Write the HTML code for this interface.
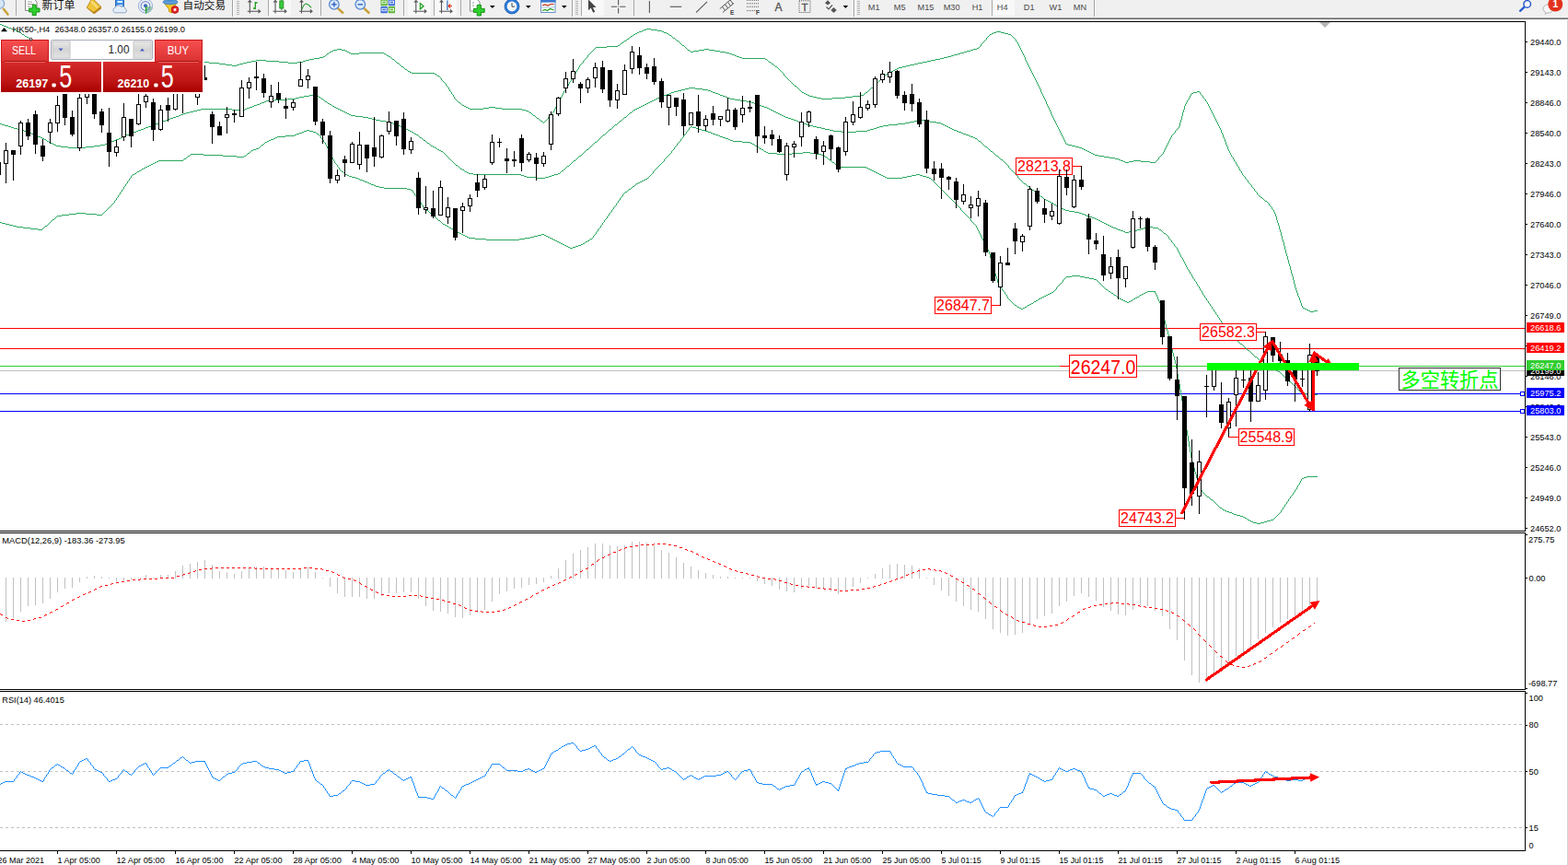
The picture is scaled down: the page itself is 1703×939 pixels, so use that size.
<!DOCTYPE html>
<html><head><meta charset="utf-8"><title>HK50 H4</title>
<style>
html,body{margin:0;padding:0;background:#fff}
body{width:1703px;height:939px;overflow:hidden;position:relative;font-family:"Liberation Sans","Noto Sans CJK SC",sans-serif}
svg{position:absolute;left:0;top:0;display:block}
text{font-family:"Liberation Sans","Noto Sans CJK SC",sans-serif}
</style></head><body>
<svg width="1703" height="939" viewBox="0 0 1703 939">
<defs><clipPath id="cm"><rect x="0" y="24" width="1656" height="552"/></clipPath><clipPath id="c2"><rect x="0" y="579" width="1656" height="169"/></clipPath><clipPath id="c3"><rect x="0" y="751" width="1656" height="172"/></clipPath><linearGradient id="gr1" x1="0" y1="0" x2="0" y2="1"><stop offset="0" stop-color="#f85050"/><stop offset="1" stop-color="#d83030"/></linearGradient><linearGradient id="gr2" x1="0" y1="0" x2="0" y2="1"><stop offset="0" stop-color="#d62a2a"/><stop offset="0.6" stop-color="#c01616"/><stop offset="1" stop-color="#a80000"/></linearGradient><linearGradient id="gb" x1="0" y1="0" x2="0" y2="1"><stop offset="0" stop-color="#e8e8e8"/><stop offset="0.5" stop-color="#d4d4d4"/><stop offset="1" stop-color="#e4e4e4"/></linearGradient></defs>
<rect x="0" y="0" width="1703" height="939" fill="#fff" />
<g shape-rendering="crispEdges">
<g clip-path="url(#cm)">
<rect x="0" y="356" width="1656" height="1" fill="#ff0000" />
<rect x="0" y="378" width="1656" height="1" fill="#ff0000" />
<rect x="0" y="397" width="1656" height="1" fill="#32cd32" />
<rect x="0" y="402" width="1656" height="1" fill="#c0c0c0" />
<rect x="0" y="427" width="1656" height="1" fill="#0000ff" />
<rect x="0" y="446" width="1656" height="1" fill="#0000ff" />
<path d="M0 26.5h2M2 27.5h2M4 28.5h3M7 29.5h2M9 30.5h3M12 31.5h2M14 32.5h3M17 33.5h2M19 34.5h2M21 35.5h2M23 36.5h1M24 37.5h2M26 38.5h1M27 39.5h2M29 40.5h2M31 41.5h1M32 42.5h2M34 43.5h1" stroke="#2aa85f" stroke-width="1" fill="none"/>
<path d="M479.5 85v2M484.5 91v2M487.5 95v2M488.5 97v2M490.5 100v2M492.5 103v2M493.5 105v2M595.5 127v2M601.5 120v2M602.5 118v2M603.5 116v2M604.5 114v2M605.5 112v2M607.5 109v2M608.5 107v2M609.5 105v2M610.5 103v2M611.5 101v2M612.5 99v2M614.5 96v2M615.5 94v2M617.5 91v2M618.5 89v2M620.5 86v2M622.5 83v2M623.5 81v2M625.5 78v2M626.5 76v2M628.5 73v2M629.5 71v2M633.5 66v2M638.5 60v2M851.5 80v2M1065.5 48v2M1071.5 41v2M1103.5 43v2M1105.5 46v2M1106.5 48v2M1107.5 50v2M1108.5 52v2M1109.5 54v2M1110.5 56v2M1111.5 58v2M1112.5 60v2M1113.5 62v3M1114.5 65v2M1115.5 67v2M1116.5 69v2M1117.5 71v2M1118.5 73v2M1119.5 75v2M1120.5 77v2M1121.5 79v2M1122.5 81v2M1123.5 83v2M1124.5 85v2M1125.5 87v2M1126.5 89v2M1127.5 91v2M1128.5 93v2M1129.5 95v2M1130.5 97v3M1131.5 100v2M1132.5 102v2M1133.5 104v2M1134.5 106v2M1135.5 108v2M1136.5 110v3M1137.5 113v2M1138.5 115v2M1139.5 117v2M1140.5 119v2M1141.5 121v3M1142.5 124v2M1143.5 126v2M1144.5 128v2M1145.5 130v2M1146.5 132v2M1147.5 134v2M1148.5 136v2M1149.5 138v2M1150.5 140v2M1151.5 142v2M1152.5 144v2M1153.5 146v2M1154.5 148v2M1155.5 150v2M1156.5 152v2M1157.5 154v2M1258.5 171v2M1263.5 165v2M1264.5 163v2M1265.5 161v2M1266.5 159v2M1267.5 157v2M1268.5 155v2M1269.5 153v2M1270.5 151v2M1271.5 149v2M1272.5 147v2M1276.5 142v2M1280.5 137v2M1281.5 133v4M1282.5 130v3M1283.5 126v4M1284.5 122v4M1285.5 119v3M1286.5 115v4M1287.5 113v2M1288.5 111v2M1289.5 109v2M1291.5 106v2M1292.5 104v2M1293.5 102v2M1303.5 100v2M1306.5 104v2M1309.5 108v2M1311.5 111v2M1312.5 113v2M1313.5 115v2M1314.5 117v2M1315.5 119v2M1316.5 121v2M1317.5 123v2M1318.5 125v2M1319.5 127v2M1320.5 129v2M1321.5 131v2M1322.5 133v2M1323.5 135v2M1324.5 137v2M1325.5 139v2M1326.5 141v3M1327.5 144v2M1328.5 146v3M1329.5 149v2M1330.5 151v3M1331.5 154v3M1332.5 157v2M1333.5 159v3M1334.5 162v2M1335.5 164v2M1336.5 166v2M1337.5 168v2M1339.5 171v2M1340.5 173v2M1342.5 176v2M1343.5 178v2M1345.5 181v2M1346.5 183v2M1348.5 186v2M1349.5 188v2M1352.5 192v2M1355.5 196v2M1359.5 201v2M1362.5 205v2M1365.5 209v2M1378.5 221v2M1381.5 225v2M1383.5 228v2M1384.5 230v2M1385.5 232v3M1386.5 235v4M1387.5 239v3M1388.5 242v3M1389.5 245v4M1390.5 249v3M1391.5 252v4M1392.5 256v4M1393.5 260v3M1394.5 263v4M1395.5 267v4M1396.5 271v4M1397.5 275v3M1398.5 278v4M1399.5 282v4M1400.5 286v3M1401.5 289v4M1402.5 293v4M1403.5 297v3M1404.5 300v4M1405.5 304v4M1406.5 308v4M1407.5 312v3M1408.5 315v3M1409.5 318v3M1410.5 321v2M1411.5 323v3M1412.5 326v3M1413.5 329v3M1414.5 332v2M702 31.5h5M699 32.5h3M707 32.5h7M697 33.5h2M714 33.5h5M694 34.5h3M719 34.5h2M1082 34.5h5M692 35.5h2M721 35.5h3M1079 35.5h3M1087 35.5h4M690 36.5h2M724 36.5h2M1077 36.5h2M1091 36.5h4M688 37.5h2M726 37.5h1M1075 37.5h2M1095 37.5h3M687 38.5h1M727 38.5h2M1074 38.5h1M1098 38.5h1M685 39.5h2M729 39.5h1M1073 39.5h1M1099 39.5h1M684 40.5h1M730 40.5h1M1072 40.5h1M1100 40.5h1M683 41.5h1M731 41.5h2M1101 41.5h1M681 42.5h2M733 42.5h1M1102 42.5h1M680 43.5h1M734 43.5h1M1070 43.5h1M678 44.5h2M735 44.5h2M1069 44.5h1M677 45.5h1M737 45.5h1M1068 45.5h1M1104 45.5h1M675 46.5h2M738 46.5h1M1067 46.5h1M674 47.5h1M739 47.5h1M1066 47.5h1M673 48.5h1M740 48.5h1M671 49.5h2M741 49.5h2M659 50.5h12M743 50.5h1M1064 50.5h1M647 51.5h12M744 51.5h1M1063 51.5h1M646 52.5h1M745 52.5h1M1061 52.5h2M366 53.5h5M645 53.5h1M746 53.5h1M765 53.5h5M1057 53.5h4M362 54.5h4M371 54.5h4M644 54.5h1M747 54.5h2M759 54.5h6M770 54.5h6M1054 54.5h3M360 55.5h2M375 55.5h2M643 55.5h1M749 55.5h1M753 55.5h6M776 55.5h6M1050 55.5h4M358 56.5h2M377 56.5h2M642 56.5h1M750 56.5h3M782 56.5h6M1047 56.5h3M357 57.5h1M379 57.5h2M390 57.5h27M641 57.5h1M788 57.5h4M1043 57.5h4M355 58.5h2M381 58.5h9M417 58.5h2M640 58.5h1M792 58.5h3M1040 58.5h3M354 59.5h1M419 59.5h1M639 59.5h1M795 59.5h3M1036 59.5h4M353 60.5h1M420 60.5h2M798 60.5h2M1033 60.5h3M351 61.5h2M422 61.5h2M800 61.5h3M1029 61.5h4M347 62.5h4M424 62.5h1M637 62.5h1M803 62.5h3M1025 62.5h4M341 63.5h6M425 63.5h1M636 63.5h1M806 63.5h25M1021 63.5h4M336 64.5h5M426 64.5h2M635 64.5h1M831 64.5h2M1016 64.5h5M278 65.5h11M332 65.5h4M428 65.5h1M634 65.5h1M833 65.5h1M1011 65.5h5M273 66.5h5M289 66.5h14M329 66.5h3M429 66.5h1M834 66.5h1M1007 66.5h4M220 67.5h7M268 67.5h5M303 67.5h10M323 67.5h6M430 67.5h1M835 67.5h2M1002 67.5h5M227 68.5h11M264 68.5h4M313 68.5h10M431 68.5h2M632 68.5h1M837 68.5h1M997 68.5h5M238 69.5h7M260 69.5h4M433 69.5h1M631 69.5h1M838 69.5h2M993 69.5h4M245 70.5h7M257 70.5h3M434 70.5h1M630 70.5h1M840 70.5h1M988 70.5h5M252 71.5h5M435 71.5h1M841 71.5h1M984 71.5h4M436 72.5h2M842 72.5h2M980 72.5h4M438 73.5h1M844 73.5h1M976 73.5h4M439 74.5h1M845 74.5h1M974 74.5h2M440 75.5h2M627 75.5h1M846 75.5h1M972 75.5h2M442 76.5h1M847 76.5h1M970 76.5h2M443 77.5h2M848 77.5h1M968 77.5h2M445 78.5h2M849 78.5h1M967 78.5h1M447 79.5h25M850 79.5h1M965 79.5h2M472 80.5h2M624 80.5h1M963 80.5h2M474 81.5h1M961 81.5h2M475 82.5h2M852 82.5h1M960 82.5h1M477 83.5h1M853 83.5h1M959 83.5h1M478 84.5h1M854 84.5h1M958 84.5h1M621 85.5h1M855 85.5h1M957 85.5h1M856 86.5h1M956 86.5h1M480 87.5h1M857 87.5h1M955 87.5h1M481 88.5h1M619 88.5h1M858 88.5h1M954 88.5h1M482 89.5h1M859 89.5h1M953 89.5h1M483 90.5h1M860 90.5h1M952 90.5h1M861 91.5h1M951 91.5h1M862 92.5h1M950 92.5h1M485 93.5h1M616 93.5h1M863 93.5h2M949 93.5h1M486 94.5h1M865 94.5h1M948 94.5h1M866 95.5h1M946 95.5h2M867 96.5h1M945 96.5h1M868 97.5h1M944 97.5h1M613 98.5h1M869 98.5h1M943 98.5h1M489 99.5h1M870 99.5h1M942 99.5h1M1300 99.5h3M871 100.5h2M940 100.5h2M1296 100.5h4M873 101.5h2M939 101.5h1M1294 101.5h2M491 102.5h1M875 102.5h2M938 102.5h1M1304 102.5h1M877 103.5h2M934 103.5h4M1305 103.5h1M879 104.5h4M926 104.5h8M883 105.5h4M918 105.5h8M887 106.5h5M904 106.5h14M1307 106.5h1M494 107.5h1M892 107.5h12M1308 107.5h1M495 108.5h1M1290 108.5h1M496 109.5h1M497 110.5h1M1310 110.5h1M498 111.5h2M606 111.5h1M500 112.5h1M501 113.5h1M502 114.5h2M504 115.5h2M506 116.5h2M531 116.5h7M508 117.5h2M525 117.5h6M538 117.5h7M510 118.5h15M545 118.5h22M567 119.5h4M571 120.5h3M574 121.5h1M575 122.5h2M600 122.5h1M577 123.5h1M599 123.5h1M578 124.5h1M598 124.5h1M579 125.5h2M597 125.5h1M581 126.5h1M596 126.5h1M582 127.5h1M583 128.5h2M585 129.5h1M594 129.5h1M586 130.5h1M593 130.5h1M587 131.5h2M592 131.5h1M589 132.5h1M591 132.5h1M590 133.5h1M1279 139.5h1M1278 140.5h1M1277 141.5h1M1275 144.5h1M1274 145.5h1M1273 146.5h1M1158 156.5h2M1160 157.5h4M1164 158.5h4M1168 159.5h4M1172 160.5h3M1175 161.5h2M1177 162.5h2M1179 163.5h2M1181 164.5h2M1183 165.5h2M1185 166.5h2M1187 167.5h2M1262 167.5h1M1189 168.5h4M1261 168.5h1M1193 169.5h6M1260 169.5h1M1199 170.5h6M1259 170.5h1M1338 170.5h1M1205 171.5h6M1211 172.5h4M1215 173.5h2M1257 173.5h1M1217 174.5h3M1231 174.5h8M1256 174.5h1M1220 175.5h2M1226 175.5h5M1239 175.5h10M1255 175.5h1M1341 175.5h1M1222 176.5h4M1249 176.5h6M1344 180.5h1M1347 185.5h1M1350 190.5h1M1351 191.5h1M1353 194.5h1M1354 195.5h1M1356 198.5h1M1357 199.5h1M1358 200.5h1M1360 203.5h1M1361 204.5h1M1363 207.5h1M1364 208.5h1M1366 211.5h1M1367 212.5h1M1368 213.5h1M1369 214.5h2M1371 215.5h1M1372 216.5h1M1373 217.5h1M1374 218.5h2M1376 219.5h1M1377 220.5h1M1379 223.5h1M1380 224.5h1M1382 227.5h1M1415 334.5h2M1417 335.5h2M1419 336.5h2M1421 337.5h2M1427 337.5h4M1423 338.5h4" stroke="#2aa85f" stroke-width="1" fill="none"/>
<path d="M1095.5 180v2M1105.5 191v2M1269.5 257v2M1272.5 261v2M1275.5 265v2M1278.5 269v2M1279.5 271v2M1280.5 273v2M1281.5 275v2M1282.5 277v2M1284.5 280v2M1285.5 282v2M1286.5 284v2M1287.5 286v2M1288.5 288v2M1289.5 290v2M1291.5 293v2M1292.5 295v2M1294.5 298v2M1295.5 300v2M1297.5 303v2M1299.5 306v2M1300.5 308v2M1302.5 311v2M1303.5 313v2M1305.5 316v2M1306.5 318v2M1308.5 321v2M1310.5 324v2M1312.5 327v2M1314.5 330v2M1316.5 333v2M1318.5 336v2M1320.5 339v2M1322.5 342v2M1324.5 345v2M1326.5 348v2M1330.5 353v2M1336.5 360v2M1341.5 366v2M748 95.5h7M744 96.5h4M755 96.5h8M740 97.5h4M763 97.5h6M736 98.5h4M769 98.5h3M732 99.5h4M772 99.5h2M729 100.5h3M774 100.5h3M727 101.5h2M777 101.5h3M724 102.5h3M780 102.5h2M336 103.5h6M721 103.5h3M782 103.5h3M330 104.5h6M342 104.5h4M719 104.5h2M785 104.5h3M325 105.5h5M346 105.5h2M716 105.5h3M788 105.5h2M321 106.5h4M348 106.5h1M714 106.5h2M790 106.5h3M312 107.5h9M349 107.5h2M712 107.5h2M793 107.5h5M298 108.5h14M351 108.5h1M710 108.5h2M798 108.5h6M289 109.5h9M352 109.5h1M708 109.5h2M804 109.5h7M287 110.5h2M353 110.5h2M706 110.5h2M811 110.5h5M284 111.5h3M355 111.5h1M704 111.5h2M816 111.5h3M282 112.5h2M356 112.5h2M702 112.5h2M819 112.5h3M279 113.5h3M358 113.5h2M700 113.5h2M822 113.5h2M276 114.5h3M360 114.5h1M698 114.5h2M824 114.5h3M274 115.5h2M361 115.5h2M696 115.5h2M827 115.5h3M271 116.5h3M363 116.5h2M694 116.5h2M830 116.5h3M268 117.5h3M365 117.5h2M692 117.5h2M833 117.5h2M218 118.5h34M266 118.5h2M367 118.5h2M690 118.5h2M835 118.5h2M214 119.5h4M252 119.5h14M369 119.5h2M688 119.5h2M837 119.5h2M210 120.5h4M371 120.5h2M687 120.5h1M839 120.5h2M206 121.5h4M373 121.5h2M686 121.5h1M841 121.5h2M202 122.5h4M375 122.5h2M684 122.5h2M843 122.5h2M199 123.5h3M377 123.5h2M683 123.5h1M845 123.5h2M196 124.5h3M379 124.5h2M682 124.5h1M847 124.5h2M194 125.5h2M381 125.5h5M681 125.5h1M849 125.5h2M191 126.5h3M386 126.5h8M680 126.5h1M851 126.5h2M188 127.5h3M394 127.5h6M678 127.5h2M853 127.5h3M185 128.5h3M400 128.5h4M677 128.5h1M856 128.5h3M183 129.5h2M404 129.5h4M676 129.5h1M859 129.5h3M180 130.5h3M408 130.5h5M675 130.5h1M862 130.5h3M998 130.5h6M177 131.5h3M413 131.5h6M673 131.5h2M865 131.5h2M993 131.5h5M1004 131.5h6M174 132.5h3M419 132.5h5M672 132.5h1M867 132.5h3M988 132.5h5M1010 132.5h7M172 133.5h2M424 133.5h3M671 133.5h1M870 133.5h3M983 133.5h5M1017 133.5h5M0 134.5h2M169 134.5h3M427 134.5h3M670 134.5h1M873 134.5h3M975 134.5h8M1022 134.5h2M2 135.5h3M166 135.5h3M430 135.5h3M668 135.5h2M876 135.5h3M965 135.5h10M1024 135.5h2M5 136.5h4M164 136.5h2M433 136.5h2M667 136.5h1M879 136.5h4M959 136.5h6M1026 136.5h2M9 137.5h3M161 137.5h3M435 137.5h2M666 137.5h1M883 137.5h4M955 137.5h4M1028 137.5h2M12 138.5h3M158 138.5h3M437 138.5h2M665 138.5h1M887 138.5h5M952 138.5h3M1030 138.5h2M15 139.5h4M156 139.5h2M439 139.5h2M664 139.5h1M892 139.5h4M949 139.5h3M1032 139.5h2M19 140.5h3M153 140.5h3M441 140.5h2M662 140.5h2M896 140.5h5M945 140.5h4M1034 140.5h2M22 141.5h4M150 141.5h3M443 141.5h2M661 141.5h1M901 141.5h4M942 141.5h3M1036 141.5h3M26 142.5h3M148 142.5h2M445 142.5h2M660 142.5h1M905 142.5h9M930 142.5h12M1039 142.5h2M29 143.5h2M145 143.5h3M447 143.5h2M659 143.5h1M914 143.5h16M1041 143.5h3M31 144.5h3M143 144.5h2M449 144.5h1M658 144.5h1M1044 144.5h2M34 145.5h3M140 145.5h3M450 145.5h2M657 145.5h1M1046 145.5h3M37 146.5h2M137 146.5h3M452 146.5h2M655 146.5h2M1049 146.5h3M39 147.5h2M135 147.5h2M454 147.5h1M654 147.5h1M1052 147.5h2M41 148.5h3M133 148.5h2M455 148.5h1M653 148.5h1M1054 148.5h3M44 149.5h2M131 149.5h2M456 149.5h2M652 149.5h1M1057 149.5h2M46 150.5h2M129 150.5h2M458 150.5h1M651 150.5h1M1059 150.5h2M48 151.5h2M126 151.5h3M459 151.5h1M650 151.5h1M1061 151.5h1M50 152.5h1M124 152.5h2M460 152.5h2M649 152.5h1M1062 152.5h1M51 153.5h2M121 153.5h3M462 153.5h1M648 153.5h1M1063 153.5h2M53 154.5h2M119 154.5h2M463 154.5h1M646 154.5h2M1065 154.5h1M55 155.5h2M117 155.5h2M464 155.5h2M645 155.5h1M1066 155.5h1M57 156.5h2M114 156.5h3M466 156.5h1M644 156.5h1M1067 156.5h1M59 157.5h2M109 157.5h5M467 157.5h1M643 157.5h1M1068 157.5h1M61 158.5h5M102 158.5h7M468 158.5h2M642 158.5h1M1069 158.5h1M66 159.5h8M93 159.5h9M470 159.5h2M641 159.5h1M1070 159.5h2M74 160.5h19M472 160.5h2M640 160.5h1M1072 160.5h1M474 161.5h1M639 161.5h1M1073 161.5h1M475 162.5h2M637 162.5h2M1074 162.5h1M477 163.5h2M636 163.5h1M1075 163.5h1M479 164.5h2M635 164.5h1M1076 164.5h2M481 165.5h1M634 165.5h1M1078 165.5h1M482 166.5h1M633 166.5h1M1079 166.5h1M483 167.5h1M632 167.5h1M1080 167.5h1M484 168.5h1M631 168.5h1M1081 168.5h1M485 169.5h1M629 169.5h2M1082 169.5h2M486 170.5h1M628 170.5h1M1084 170.5h1M487 171.5h1M627 171.5h1M1085 171.5h1M488 172.5h1M626 172.5h1M1086 172.5h1M489 173.5h1M625 173.5h1M1087 173.5h2M490 174.5h1M623 174.5h2M1089 174.5h1M491 175.5h1M622 175.5h1M1090 175.5h1M492 176.5h1M621 176.5h1M1091 176.5h1M493 177.5h1M620 177.5h1M1092 177.5h1M494 178.5h1M619 178.5h1M1093 178.5h1M495 179.5h2M618 179.5h1M1094 179.5h1M497 180.5h1M616 180.5h2M498 181.5h1M615 181.5h1M499 182.5h1M614 182.5h1M1096 182.5h1M500 183.5h2M613 183.5h1M1097 183.5h1M502 184.5h2M612 184.5h1M1098 184.5h1M504 185.5h1M610 185.5h2M1099 185.5h1M505 186.5h2M609 186.5h1M1100 186.5h1M507 187.5h2M608 187.5h1M1101 187.5h1M509 188.5h5M606 188.5h2M1102 188.5h1M514 189.5h52M602 189.5h4M1103 189.5h1M566 190.5h3M599 190.5h3M1104 190.5h1M569 191.5h3M596 191.5h3M572 192.5h10M592 192.5h4M582 193.5h10M1106 193.5h1M1107 194.5h1M1108 195.5h1M1109 196.5h1M1110 197.5h1M1111 198.5h1M1112 199.5h2M1114 200.5h1M1115 201.5h1M1116 202.5h2M1118 203.5h1M1119 204.5h1M1120 205.5h1M1121 206.5h2M1123 207.5h1M1124 208.5h1M1125 209.5h1M1126 210.5h2M1128 211.5h1M1129 212.5h1M1130 213.5h2M1132 214.5h1M1133 215.5h1M1134 216.5h2M1136 217.5h2M1138 218.5h2M1140 219.5h2M1142 220.5h2M1144 221.5h1M1145 222.5h2M1147 223.5h2M1149 224.5h2M1151 225.5h2M1153 226.5h2M1155 227.5h2M1157 228.5h4M1161 229.5h6M1167 230.5h5M1172 231.5h3M1175 232.5h3M1178 233.5h2M1180 234.5h3M1183 235.5h3M1186 236.5h3M1189 237.5h2M1191 238.5h2M1193 239.5h2M1195 240.5h2M1197 241.5h2M1199 242.5h2M1201 243.5h2M1203 244.5h2M1205 245.5h2M1207 246.5h2M1246 246.5h6M1209 247.5h3M1242 247.5h4M1252 247.5h6M1212 248.5h2M1239 248.5h3M1258 248.5h1M1214 249.5h3M1235 249.5h4M1259 249.5h2M1217 250.5h3M1231 250.5h4M1261 250.5h1M1220 251.5h2M1226 251.5h5M1262 251.5h1M1222 252.5h4M1263 252.5h1M1264 253.5h2M1266 254.5h1M1267 255.5h1M1268 256.5h1M1270 259.5h1M1271 260.5h1M1273 263.5h1M1274 264.5h1M1276 267.5h1M1277 268.5h1M1283 279.5h1M1290 292.5h1M1293 297.5h1M1296 302.5h1M1298 305.5h1M1301 310.5h1M1304 315.5h1M1307 320.5h1M1309 323.5h1M1311 326.5h1M1313 329.5h1M1315 332.5h1M1317 335.5h1M1319 338.5h1M1321 341.5h1M1323 344.5h1M1325 347.5h1M1327 350.5h1M1328 351.5h1M1329 352.5h1M1331 355.5h1M1332 356.5h1M1333 357.5h1M1334 358.5h1M1335 359.5h1M1337 362.5h1M1338 363.5h1M1339 364.5h1M1340 365.5h1M1342 368.5h1M1343 369.5h1M1344 370.5h1M1345 371.5h1M1346 372.5h1M1347 373.5h2M1349 374.5h1M1350 375.5h1M1351 376.5h1M1352 377.5h1M1353 378.5h1M1354 379.5h1M1355 380.5h2M1357 381.5h1M1358 382.5h1M1359 383.5h1M1360 384.5h1M1361 385.5h1M1362 386.5h1M1363 387.5h2M1365 388.5h1M1366 389.5h1M1367 390.5h1M1368 391.5h2M1370 392.5h2M1372 393.5h1M1373 394.5h2M1375 395.5h2M1377 396.5h1M1378 397.5h2M1380 398.5h1M1381 399.5h2M1383 400.5h2M1385 401.5h1M1386 402.5h2M1388 403.5h2M1390 404.5h1M1391 405.5h1M1392 406.5h1M1393 407.5h1M1394 408.5h1M1395 409.5h1M1396 410.5h1M1397 411.5h1M1398 412.5h1M1399 413.5h1M1400 414.5h2M1402 415.5h1M1403 416.5h1M1404 417.5h1M1405 418.5h1M1406 419.5h1M1407 420.5h1M1408 421.5h1M1409 422.5h1M1410 423.5h1M1411 424.5h2M1413 425.5h2M1415 426.5h2M1417 427.5h2M1419 428.5h12" stroke="#2aa85f" stroke-width="1" fill="none"/>
<path d="M124.5 218v2M126.5 215v2M128.5 212v2M130.5 209v2M132.5 206v2M134.5 203v2M136.5 200v2M138.5 197v2M140.5 194v2M142.5 191v2M348.5 148v2M351.5 152v2M353.5 155v2M354.5 157v2M355.5 159v2M356.5 161v2M357.5 163v2M358.5 165v2M359.5 167v2M360.5 169v2M361.5 171v2M362.5 173v2M363.5 175v2M366.5 179v2M368.5 182v2M448.5 207v2M450.5 210v2M452.5 213v2M455.5 217v2M457.5 220v2M459.5 223v2M644.5 256v2M647.5 252v2M649.5 249v2M652.5 245v2M654.5 242v2M656.5 239v2M659.5 235v2M661.5 232v2M664.5 228v2M666.5 225v2M669.5 221v2M671.5 218v2M673.5 215v2M676.5 211v2M709.5 186v2M721.5 173v2M729.5 164v2M732.5 160v2M735.5 156v2M739.5 151v2M742.5 147v2M745.5 143v2M748.5 139v2M1043.5 226v2M1054.5 238v2M1060.5 245v2M1061.5 247v2M1062.5 249v2M1063.5 251v2M1064.5 253v2M1065.5 255v2M1066.5 257v2M1067.5 259v2M1068.5 261v2M1069.5 263v2M1070.5 265v2M1071.5 267v2M1072.5 269v2M1073.5 271v2M1074.5 273v3M1075.5 276v4M1076.5 280v3M1077.5 283v3M1078.5 286v4M1079.5 290v3M1080.5 293v4M1081.5 297v3M1082.5 300v3M1083.5 303v4M1084.5 307v2M1086.5 310v2M1088.5 313v2M1091.5 317v2M1093.5 320v2M1094.5 322v2M1147.5 312v2M1154.5 304v2M1254.5 316v2M1255.5 318v2M1256.5 320v2M1257.5 322v3M1258.5 325v2M1259.5 327v2M1260.5 329v3M1261.5 332v4M1262.5 336v4M1263.5 340v4M1264.5 344v4M1265.5 348v4M1266.5 352v4M1267.5 356v3M1268.5 359v4M1269.5 363v4M1270.5 367v4M1271.5 371v4M1272.5 375v4M1273.5 379v4M1274.5 383v4M1275.5 387v4M1276.5 391v4M1277.5 395v5M1278.5 400v6M1279.5 406v6M1280.5 412v5M1281.5 417v6M1282.5 423v6M1283.5 429v6M1284.5 435v6M1285.5 441v6M1286.5 447v7M1287.5 454v7M1288.5 461v6M1289.5 467v6M1290.5 473v6M1291.5 479v6M1292.5 485v6M1293.5 491v6M1294.5 497v4M1295.5 501v4M1296.5 505v3M1297.5 508v4M1298.5 512v3M1299.5 515v4M1300.5 519v3M1301.5 522v2M1302.5 524v3M1303.5 527v3M1304.5 530v2M1305.5 532v2M1391.5 554v2M1393.5 551v2M1395.5 548v2M1397.5 545v2M1399.5 542v2M1401.5 539v2M1404.5 535v2M1406.5 532v2M1408.5 529v2M1409.5 527v2M1411.5 524v2M1412.5 522v2M1413.5 520v2M750 137.5h2M749 138.5h1M752 138.5h4M756 139.5h3M759 140.5h3M333 141.5h3M747 141.5h1M762 141.5h4M330 142.5h3M336 142.5h4M746 142.5h1M766 142.5h3M328 143.5h2M340 143.5h3M769 143.5h3M325 144.5h3M343 144.5h1M772 144.5h2M322 145.5h3M344 145.5h2M744 145.5h1M774 145.5h3M320 146.5h2M346 146.5h1M743 146.5h1M777 146.5h3M310 147.5h10M347 147.5h1M780 147.5h2M301 148.5h9M782 148.5h3M299 149.5h2M741 149.5h1M785 149.5h3M297 150.5h2M349 150.5h1M740 150.5h1M788 150.5h3M294 151.5h3M350 151.5h1M791 151.5h2M292 152.5h2M793 152.5h3M290 153.5h2M738 153.5h1M796 153.5h10M288 154.5h2M352 154.5h1M737 154.5h1M806 154.5h9M287 155.5h1M736 155.5h1M815 155.5h2M286 156.5h1M817 156.5h2M284 157.5h2M819 157.5h1M283 158.5h1M734 158.5h1M820 158.5h2M282 159.5h1M733 159.5h1M822 159.5h2M281 160.5h1M824 160.5h1M278 161.5h3M825 161.5h2M275 162.5h3M731 162.5h1M827 162.5h2M273 163.5h2M730 163.5h1M829 163.5h1M272 164.5h1M830 164.5h2M271 165.5h1M832 165.5h2M872 165.5h8M269 166.5h2M728 166.5h1M834 166.5h10M860 166.5h12M880 166.5h6M207 167.5h14M268 167.5h1M727 167.5h1M844 167.5h16M886 167.5h6M206 168.5h1M221 168.5h21M267 168.5h1M726 168.5h1M892 168.5h3M204 169.5h2M242 169.5h15M265 169.5h2M725 169.5h1M895 169.5h1M203 170.5h1M257 170.5h8M724 170.5h1M896 170.5h2M202 171.5h1M723 171.5h1M898 171.5h1M200 172.5h2M722 172.5h1M899 172.5h1M199 173.5h1M900 173.5h2M172 174.5h27M902 174.5h1M170 175.5h2M720 175.5h1M903 175.5h1M168 176.5h2M719 176.5h1M904 176.5h2M166 177.5h2M364 177.5h1M718 177.5h1M906 177.5h1M164 178.5h2M365 178.5h1M717 178.5h1M907 178.5h2M162 179.5h2M716 179.5h1M909 179.5h2M160 180.5h2M715 180.5h1M911 180.5h2M158 181.5h2M367 181.5h1M714 181.5h1M913 181.5h28M156 182.5h2M713 182.5h1M941 182.5h2M154 183.5h2M712 183.5h1M943 183.5h2M153 184.5h1M369 184.5h1M711 184.5h1M945 184.5h2M151 185.5h2M370 185.5h1M710 185.5h1M947 185.5h2M149 186.5h2M371 186.5h2M949 186.5h2M148 187.5h1M373 187.5h1M951 187.5h2M146 188.5h2M374 188.5h1M708 188.5h1M953 188.5h2M144 189.5h2M375 189.5h2M707 189.5h1M955 189.5h2M995 189.5h4M143 190.5h1M377 190.5h2M706 190.5h1M957 190.5h2M990 190.5h5M999 190.5h3M379 191.5h3M705 191.5h1M959 191.5h2M985 191.5h5M1002 191.5h4M382 192.5h4M704 192.5h1M961 192.5h2M980 192.5h5M1006 192.5h3M141 193.5h1M386 193.5h3M703 193.5h1M963 193.5h17M1009 193.5h2M389 194.5h2M701 194.5h2M1011 194.5h1M391 195.5h3M699 195.5h2M1012 195.5h1M139 196.5h1M394 196.5h2M697 196.5h2M1013 196.5h1M396 197.5h3M695 197.5h2M1014 197.5h1M399 198.5h2M693 198.5h2M1015 198.5h1M137 199.5h1M401 199.5h2M691 199.5h2M1016 199.5h1M403 200.5h3M690 200.5h1M1017 200.5h1M406 201.5h2M689 201.5h1M1018 201.5h1M135 202.5h1M408 202.5h4M687 202.5h2M1019 202.5h1M412 203.5h5M686 203.5h1M1020 203.5h1M417 204.5h25M685 204.5h1M1021 204.5h1M133 205.5h1M442 205.5h4M683 205.5h2M1022 205.5h1M446 206.5h2M682 206.5h1M1023 206.5h1M681 207.5h1M1024 207.5h1M131 208.5h1M679 208.5h2M1025 208.5h1M449 209.5h1M678 209.5h1M1026 209.5h1M677 210.5h1M1027 210.5h1M129 211.5h1M1028 211.5h1M451 212.5h1M1029 212.5h1M675 213.5h1M1030 213.5h1M127 214.5h1M674 214.5h1M1031 214.5h1M453 215.5h1M1032 215.5h1M454 216.5h1M1033 216.5h1M125 217.5h1M672 217.5h1M1034 217.5h1M1035 218.5h1M456 219.5h1M1036 219.5h1M123 220.5h1M670 220.5h1M1037 220.5h1M122 221.5h1M1038 221.5h1M121 222.5h1M458 222.5h1M1039 222.5h1M120 223.5h1M668 223.5h1M1040 223.5h1M119 224.5h1M667 224.5h1M1041 224.5h1M118 225.5h1M460 225.5h1M1042 225.5h1M117 226.5h1M461 226.5h1M116 227.5h1M462 227.5h1M665 227.5h1M115 228.5h1M463 228.5h2M1044 228.5h1M114 229.5h1M465 229.5h1M1045 229.5h1M113 230.5h1M466 230.5h1M663 230.5h1M1046 230.5h1M83 231.5h10M112 231.5h1M467 231.5h1M662 231.5h1M1047 231.5h1M75 232.5h8M93 232.5h12M111 232.5h1M468 232.5h1M1048 232.5h1M67 233.5h8M105 233.5h6M469 233.5h1M1049 233.5h1M62 234.5h5M470 234.5h2M660 234.5h1M1050 234.5h1M61 235.5h1M472 235.5h1M1051 235.5h1M60 236.5h1M473 236.5h1M1052 236.5h1M59 237.5h1M474 237.5h1M658 237.5h1M1053 237.5h1M57 238.5h2M475 238.5h1M657 238.5h1M56 239.5h1M476 239.5h2M55 240.5h1M478 240.5h1M1055 240.5h1M0 241.5h2M54 241.5h1M479 241.5h1M655 241.5h1M1056 241.5h1M2 242.5h4M53 242.5h1M480 242.5h1M1057 242.5h1M6 243.5h4M52 243.5h1M481 243.5h2M1058 243.5h1M10 244.5h4M51 244.5h1M483 244.5h2M653 244.5h1M1059 244.5h1M14 245.5h4M49 245.5h2M485 245.5h2M18 246.5h7M48 246.5h1M487 246.5h1M25 247.5h8M47 247.5h1M488 247.5h2M651 247.5h1M33 248.5h8M46 248.5h1M490 248.5h2M650 248.5h1M41 249.5h5M492 249.5h2M494 250.5h1M495 251.5h2M648 251.5h1M497 252.5h2M499 253.5h2M501 254.5h2M588 254.5h3M646 254.5h1M503 255.5h2M584 255.5h4M591 255.5h2M645 255.5h1M505 256.5h2M580 256.5h4M593 256.5h2M507 257.5h2M576 257.5h4M595 257.5h2M509 258.5h7M570 258.5h6M597 258.5h2M643 258.5h1M516 259.5h12M564 259.5h6M599 259.5h2M641 259.5h2M528 260.5h36M601 260.5h2M640 260.5h1M603 261.5h2M638 261.5h2M605 262.5h2M636 262.5h2M607 263.5h2M635 263.5h1M609 264.5h2M633 264.5h2M611 265.5h2M631 265.5h2M613 266.5h2M628 266.5h3M615 267.5h2M625 267.5h3M617 268.5h2M622 268.5h3M619 269.5h3M1164 299.5h9M1158 300.5h6M1173 300.5h5M1157 301.5h1M1178 301.5h5M1156 302.5h1M1183 302.5h5M1155 303.5h1M1188 303.5h3M1191 304.5h1M1192 305.5h1M1153 306.5h1M1193 306.5h1M1152 307.5h1M1194 307.5h1M1151 308.5h1M1195 308.5h1M1085 309.5h1M1150 309.5h1M1196 309.5h1M1149 310.5h1M1197 310.5h1M1148 311.5h1M1198 311.5h1M1087 312.5h1M1199 312.5h1M1200 313.5h1M1146 314.5h1M1201 314.5h2M1089 315.5h1M1145 315.5h1M1203 315.5h1M1090 316.5h1M1144 316.5h1M1204 316.5h2M1246 316.5h8M1142 317.5h2M1206 317.5h1M1244 317.5h2M1140 318.5h2M1207 318.5h2M1242 318.5h2M1092 319.5h1M1138 319.5h2M1209 319.5h1M1240 319.5h2M1136 320.5h2M1210 320.5h2M1238 320.5h2M1134 321.5h2M1212 321.5h1M1237 321.5h1M1132 322.5h2M1213 322.5h2M1235 322.5h2M1130 323.5h2M1215 323.5h1M1233 323.5h2M1095 324.5h1M1128 324.5h2M1216 324.5h2M1231 324.5h2M1096 325.5h1M1127 325.5h1M1218 325.5h2M1230 325.5h1M1097 326.5h1M1125 326.5h2M1220 326.5h2M1228 326.5h2M1098 327.5h1M1123 327.5h2M1222 327.5h2M1226 327.5h2M1099 328.5h1M1122 328.5h1M1224 328.5h2M1100 329.5h1M1120 329.5h2M1101 330.5h1M1118 330.5h2M1102 331.5h2M1116 331.5h2M1104 332.5h1M1115 332.5h1M1105 333.5h2M1113 333.5h2M1107 334.5h2M1111 334.5h2M1109 335.5h2M1419 517.5h12M1416 518.5h3M1414 519.5h2M1410 526.5h1M1407 531.5h1M1306 534.5h1M1405 534.5h1M1307 535.5h1M1308 536.5h1M1309 537.5h1M1403 537.5h1M1310 538.5h1M1402 538.5h1M1311 539.5h2M1313 540.5h1M1314 541.5h1M1400 541.5h1M1315 542.5h2M1317 543.5h1M1318 544.5h1M1398 544.5h1M1319 545.5h1M1320 546.5h1M1321 547.5h1M1396 547.5h1M1322 548.5h1M1323 549.5h1M1324 550.5h1M1394 550.5h1M1325 551.5h2M1327 552.5h1M1328 553.5h2M1392 553.5h1M1330 554.5h2M1332 555.5h3M1335 556.5h3M1390 556.5h1M1338 557.5h2M1389 557.5h1M1340 558.5h3M1388 558.5h1M1343 559.5h4M1387 559.5h1M1347 560.5h3M1386 560.5h1M1350 561.5h2M1385 561.5h1M1352 562.5h2M1384 562.5h1M1354 563.5h1M1383 563.5h1M1355 564.5h2M1380 564.5h3M1357 565.5h2M1376 565.5h4M1359 566.5h2M1373 566.5h3M1361 567.5h4M1369 567.5h4M1365 568.5h4" stroke="#2aa85f" stroke-width="1" fill="none"/>
</g>
</g>
<rect x="1103.5" y="171.5" width="61" height="18" fill="#fff" stroke="#ff0000" stroke-width="1" shape-rendering="crispEdges"/>
<text x="1134.0" y="186.26" font-size="16" fill="#ff0000" text-anchor="middle" >28213.8</text>
<rect x="1165" y="180" width="10" height="1" fill="#ff0000" shape-rendering="crispEdges"/>
<rect x="1015.5" y="322.5" width="61" height="18" fill="#fff" stroke="#ff0000" stroke-width="1" shape-rendering="crispEdges"/>
<text x="1046.0" y="337.26" font-size="16" fill="#ff0000" text-anchor="middle" >26847.7</text>
<rect x="1077" y="331" width="10" height="1" fill="#ff0000" shape-rendering="crispEdges"/>
<rect x="1303.5" y="351.5" width="61" height="18" fill="#fff" stroke="#ff0000" stroke-width="1" shape-rendering="crispEdges"/>
<text x="1334.0" y="366.26" font-size="16" fill="#ff0000" text-anchor="middle" >26582.3</text>
<rect x="1365" y="360" width="10" height="1" fill="#ff0000" shape-rendering="crispEdges"/>
<rect x="1345.5" y="465.5" width="60" height="18" fill="#fff" stroke="#ff0000" stroke-width="1" shape-rendering="crispEdges"/>
<text x="1375.5" y="480.26" font-size="16" fill="#ff0000" text-anchor="middle" >25548.9</text>
<rect x="1334" y="474" width="11" height="1" fill="#ff0000" shape-rendering="crispEdges"/>
<rect x="1215.5" y="553.5" width="61" height="18" fill="#fff" stroke="#ff0000" stroke-width="1" shape-rendering="crispEdges"/>
<text x="1246.0" y="568.26" font-size="16" fill="#ff0000" text-anchor="middle" >24743.2</text>
<rect x="1277" y="562" width="10" height="1" fill="#ff0000" shape-rendering="crispEdges"/>
<rect x="1161.5" y="385.5" width="73" height="24" fill="#fff" stroke="#ff0000" stroke-width="1" shape-rendering="crispEdges"/>
<text x="1162.8" y="405.9" font-size="22" fill="#ff0000" textLength="70.5" lengthAdjust="spacingAndGlyphs">26247.0</text>
<rect x="1151" y="397" width="10" height="1" fill="#ff0000" shape-rendering="crispEdges"/>
<g shape-rendering="crispEdges" clip-path="url(#cm)">
<rect x="-2" y="176" width="1" height="14" fill="#000" />
<rect x="-4" y="176" width="5" height="14" fill="#000" />
<rect x="6" y="155" width="1" height="44" fill="#000" />
<rect x="4" y="163" width="5" height="15" fill="#000" />
<rect x="5" y="164" width="3" height="13" fill="#fff" />
<rect x="14" y="163" width="1" height="33" fill="#000" />
<rect x="12" y="163" width="5" height="5" fill="#000" />
<rect x="22" y="131" width="1" height="37" fill="#000" />
<rect x="20" y="133" width="5" height="26" fill="#000" />
<rect x="21" y="134" width="3" height="24" fill="#fff" />
<rect x="30" y="129" width="1" height="23" fill="#000" />
<rect x="28" y="133" width="5" height="15" fill="#000" />
<rect x="38" y="120" width="1" height="47" fill="#000" />
<rect x="36" y="124" width="5" height="33" fill="#000" />
<rect x="46" y="151" width="1" height="24" fill="#000" />
<rect x="44" y="158" width="5" height="12" fill="#000" />
<rect x="54" y="129" width="1" height="27" fill="#000" />
<rect x="52" y="133" width="5" height="11" fill="#000" />
<rect x="53" y="134" width="3" height="9" fill="#fff" />
<rect x="62" y="104" width="1" height="39" fill="#000" />
<rect x="60" y="114" width="5" height="20" fill="#000" />
<rect x="61" y="115" width="3" height="18" fill="#fff" />
<rect x="70" y="75" width="1" height="61" fill="#000" />
<rect x="68" y="80" width="5" height="48" fill="#000" />
<rect x="78" y="120" width="1" height="28" fill="#000" />
<rect x="76" y="127" width="5" height="19" fill="#000" />
<rect x="86" y="90" width="1" height="74" fill="#000" />
<rect x="84" y="106" width="5" height="55" fill="#000" />
<rect x="85" y="107" width="3" height="53" fill="#fff" />
<rect x="94" y="95" width="1" height="18" fill="#000" />
<rect x="92" y="100" width="5" height="6" fill="#000" />
<rect x="93" y="101" width="3" height="4" fill="#fff" />
<rect x="102" y="85" width="1" height="44" fill="#000" />
<rect x="100" y="90" width="5" height="34" fill="#000" />
<rect x="110" y="118" width="1" height="26" fill="#000" />
<rect x="108" y="121" width="5" height="15" fill="#000" />
<rect x="118" y="117" width="1" height="64" fill="#000" />
<rect x="116" y="144" width="5" height="21" fill="#000" />
<rect x="126" y="152" width="1" height="18" fill="#000" />
<rect x="124" y="159" width="5" height="7" fill="#000" />
<rect x="125" y="160" width="3" height="5" fill="#fff" />
<rect x="134" y="112" width="1" height="41" fill="#000" />
<rect x="132" y="127" width="5" height="22" fill="#000" />
<rect x="133" y="128" width="3" height="20" fill="#fff" />
<rect x="142" y="129" width="1" height="31" fill="#000" />
<rect x="140" y="129" width="5" height="19" fill="#000" />
<rect x="150" y="102" width="1" height="34" fill="#000" />
<rect x="148" y="113" width="5" height="22" fill="#000" />
<rect x="149" y="114" width="3" height="20" fill="#fff" />
<rect x="158" y="102" width="1" height="15" fill="#000" />
<rect x="156" y="104" width="5" height="7" fill="#000" />
<rect x="157" y="105" width="3" height="5" fill="#fff" />
<rect x="166" y="107" width="1" height="46" fill="#000" />
<rect x="164" y="111" width="5" height="30" fill="#000" />
<rect x="174" y="114" width="1" height="28" fill="#000" />
<rect x="172" y="119" width="5" height="22" fill="#000" />
<rect x="173" y="120" width="3" height="20" fill="#fff" />
<rect x="182" y="106" width="1" height="26" fill="#000" />
<rect x="180" y="114" width="5" height="6" fill="#000" />
<rect x="190" y="95" width="1" height="25" fill="#000" />
<rect x="188" y="98" width="5" height="21" fill="#000" />
<rect x="189" y="99" width="3" height="19" fill="#fff" />
<rect x="198" y="95" width="1" height="28" fill="#000" />
<rect x="196" y="96" width="5" height="1" fill="#000" />
<rect x="214" y="95" width="1" height="19" fill="#000" />
<rect x="212" y="98" width="5" height="8" fill="#000" />
<rect x="213" y="99" width="3" height="6" fill="#fff" />
<rect x="222" y="71" width="1" height="16" fill="#000" />
<rect x="220" y="84" width="5" height="3" fill="#000" />
<rect x="230" y="121" width="1" height="35" fill="#000" />
<rect x="228" y="124" width="5" height="14" fill="#000" />
<rect x="238" y="132" width="1" height="15" fill="#000" />
<rect x="236" y="137" width="5" height="10" fill="#000" />
<rect x="246" y="116" width="1" height="29" fill="#000" />
<rect x="244" y="124" width="5" height="4" fill="#000" />
<rect x="245" y="125" width="3" height="2" fill="#fff" />
<rect x="254" y="119" width="1" height="14" fill="#000" />
<rect x="252" y="123" width="5" height="2" fill="#000" />
<rect x="262" y="87" width="1" height="40" fill="#000" />
<rect x="260" y="95" width="5" height="32" fill="#000" />
<rect x="261" y="96" width="3" height="30" fill="#fff" />
<rect x="270" y="84" width="1" height="23" fill="#000" />
<rect x="268" y="89" width="5" height="7" fill="#000" />
<rect x="269" y="90" width="3" height="5" fill="#fff" />
<rect x="278" y="67" width="1" height="31" fill="#000" />
<rect x="276" y="83" width="5" height="2" fill="#000" />
<rect x="286" y="80" width="1" height="26" fill="#000" />
<rect x="284" y="85" width="5" height="16" fill="#000" />
<rect x="294" y="92" width="1" height="25" fill="#000" />
<rect x="292" y="104" width="5" height="7" fill="#000" />
<rect x="293" y="105" width="3" height="5" fill="#fff" />
<rect x="302" y="89" width="1" height="23" fill="#000" />
<rect x="300" y="101" width="5" height="7" fill="#000" />
<rect x="310" y="106" width="1" height="23" fill="#000" />
<rect x="308" y="115" width="5" height="3" fill="#000" />
<rect x="318" y="108" width="1" height="12" fill="#000" />
<rect x="316" y="111" width="5" height="6" fill="#000" />
<rect x="317" y="112" width="3" height="4" fill="#fff" />
<rect x="326" y="67" width="1" height="27" fill="#000" />
<rect x="324" y="86" width="5" height="8" fill="#000" />
<rect x="325" y="87" width="3" height="6" fill="#fff" />
<rect x="334" y="75" width="1" height="21" fill="#000" />
<rect x="332" y="82" width="5" height="5" fill="#000" />
<rect x="333" y="83" width="3" height="3" fill="#fff" />
<rect x="342" y="94" width="1" height="42" fill="#000" />
<rect x="340" y="94" width="5" height="38" fill="#000" />
<rect x="350" y="129" width="1" height="27" fill="#000" />
<rect x="348" y="132" width="5" height="15" fill="#000" />
<rect x="358" y="142" width="1" height="57" fill="#000" />
<rect x="356" y="147" width="5" height="47" fill="#000" />
<rect x="366" y="184" width="1" height="15" fill="#000" />
<rect x="364" y="190" width="5" height="6" fill="#000" />
<rect x="365" y="191" width="3" height="4" fill="#fff" />
<rect x="374" y="169" width="1" height="23" fill="#000" />
<rect x="372" y="173" width="5" height="4" fill="#000" />
<rect x="382" y="154" width="1" height="23" fill="#000" />
<rect x="380" y="156" width="5" height="21" fill="#000" />
<rect x="381" y="157" width="3" height="19" fill="#fff" />
<rect x="390" y="143" width="1" height="41" fill="#000" />
<rect x="388" y="157" width="5" height="22" fill="#000" />
<rect x="389" y="158" width="3" height="20" fill="#fff" />
<rect x="398" y="157" width="1" height="30" fill="#000" />
<rect x="396" y="157" width="5" height="15" fill="#000" />
<rect x="406" y="127" width="1" height="54" fill="#000" />
<rect x="404" y="160" width="5" height="10" fill="#000" />
<rect x="414" y="146" width="1" height="26" fill="#000" />
<rect x="412" y="147" width="5" height="24" fill="#000" />
<rect x="413" y="148" width="3" height="22" fill="#fff" />
<rect x="422" y="121" width="1" height="25" fill="#000" />
<rect x="420" y="132" width="5" height="11" fill="#000" />
<rect x="421" y="133" width="3" height="9" fill="#fff" />
<rect x="430" y="131" width="1" height="27" fill="#000" />
<rect x="428" y="131" width="5" height="17" fill="#000" />
<rect x="438" y="122" width="1" height="46" fill="#000" />
<rect x="436" y="129" width="5" height="33" fill="#000" />
<rect x="446" y="149" width="1" height="18" fill="#000" />
<rect x="444" y="153" width="5" height="10" fill="#000" />
<rect x="445" y="154" width="3" height="8" fill="#fff" />
<rect x="454" y="187" width="1" height="46" fill="#000" />
<rect x="452" y="193" width="5" height="33" fill="#000" />
<rect x="462" y="202" width="1" height="30" fill="#000" />
<rect x="460" y="225" width="5" height="3" fill="#000" />
<rect x="461" y="226" width="3" height="1" fill="#fff" />
<rect x="470" y="207" width="1" height="30" fill="#000" />
<rect x="468" y="226" width="5" height="9" fill="#000" />
<rect x="478" y="196" width="1" height="38" fill="#000" />
<rect x="476" y="203" width="5" height="31" fill="#000" />
<rect x="477" y="204" width="3" height="29" fill="#fff" />
<rect x="486" y="214" width="1" height="29" fill="#000" />
<rect x="484" y="225" width="5" height="11" fill="#000" />
<rect x="485" y="226" width="3" height="9" fill="#fff" />
<rect x="494" y="226" width="1" height="35" fill="#000" />
<rect x="492" y="226" width="5" height="32" fill="#000" />
<rect x="502" y="220" width="1" height="33" fill="#000" />
<rect x="500" y="224" width="5" height="5" fill="#000" />
<rect x="501" y="225" width="3" height="3" fill="#fff" />
<rect x="510" y="211" width="1" height="19" fill="#000" />
<rect x="508" y="215" width="5" height="9" fill="#000" />
<rect x="509" y="216" width="3" height="7" fill="#fff" />
<rect x="518" y="189" width="1" height="25" fill="#000" />
<rect x="516" y="198" width="5" height="9" fill="#000" />
<rect x="526" y="190" width="1" height="16" fill="#000" />
<rect x="524" y="194" width="5" height="10" fill="#000" />
<rect x="525" y="195" width="3" height="8" fill="#fff" />
<rect x="534" y="146" width="1" height="33" fill="#000" />
<rect x="532" y="154" width="5" height="23" fill="#000" />
<rect x="533" y="155" width="3" height="21" fill="#fff" />
<rect x="542" y="150" width="1" height="10" fill="#000" />
<rect x="540" y="154" width="5" height="1" fill="#000" />
<rect x="550" y="161" width="1" height="27" fill="#000" />
<rect x="548" y="172" width="5" height="3" fill="#000" />
<rect x="558" y="164" width="1" height="17" fill="#000" />
<rect x="556" y="173" width="5" height="2" fill="#000" />
<rect x="566" y="146" width="1" height="40" fill="#000" />
<rect x="564" y="150" width="5" height="27" fill="#000" />
<rect x="574" y="165" width="1" height="11" fill="#000" />
<rect x="572" y="167" width="5" height="7" fill="#000" />
<rect x="573" y="168" width="3" height="5" fill="#fff" />
<rect x="582" y="166" width="1" height="30" fill="#000" />
<rect x="580" y="171" width="5" height="7" fill="#000" />
<rect x="590" y="165" width="1" height="16" fill="#000" />
<rect x="588" y="169" width="5" height="9" fill="#000" />
<rect x="589" y="170" width="3" height="7" fill="#fff" />
<rect x="598" y="121" width="1" height="42" fill="#000" />
<rect x="596" y="124" width="5" height="33" fill="#000" />
<rect x="597" y="125" width="3" height="31" fill="#fff" />
<rect x="606" y="105" width="1" height="21" fill="#000" />
<rect x="604" y="106" width="5" height="18" fill="#000" />
<rect x="605" y="107" width="3" height="16" fill="#fff" />
<rect x="614" y="78" width="1" height="23" fill="#000" />
<rect x="612" y="85" width="5" height="11" fill="#000" />
<rect x="613" y="86" width="3" height="9" fill="#fff" />
<rect x="622" y="64" width="1" height="26" fill="#000" />
<rect x="620" y="77" width="5" height="9" fill="#000" />
<rect x="621" y="78" width="3" height="7" fill="#fff" />
<rect x="630" y="89" width="1" height="23" fill="#000" />
<rect x="628" y="91" width="5" height="5" fill="#000" />
<rect x="638" y="84" width="1" height="17" fill="#000" />
<rect x="636" y="86" width="5" height="10" fill="#000" />
<rect x="637" y="87" width="3" height="8" fill="#fff" />
<rect x="646" y="68" width="1" height="27" fill="#000" />
<rect x="644" y="73" width="5" height="12" fill="#000" />
<rect x="645" y="74" width="3" height="10" fill="#fff" />
<rect x="654" y="66" width="1" height="35" fill="#000" />
<rect x="652" y="73" width="5" height="24" fill="#000" />
<rect x="662" y="76" width="1" height="40" fill="#000" />
<rect x="660" y="76" width="5" height="33" fill="#000" />
<rect x="670" y="91" width="1" height="27" fill="#000" />
<rect x="668" y="98" width="5" height="11" fill="#000" />
<rect x="669" y="99" width="3" height="9" fill="#fff" />
<rect x="678" y="70" width="1" height="33" fill="#000" />
<rect x="676" y="76" width="5" height="27" fill="#000" />
<rect x="677" y="77" width="3" height="25" fill="#fff" />
<rect x="686" y="50" width="1" height="30" fill="#000" />
<rect x="684" y="56" width="5" height="19" fill="#000" />
<rect x="685" y="57" width="3" height="17" fill="#fff" />
<rect x="694" y="51" width="1" height="30" fill="#000" />
<rect x="692" y="60" width="5" height="14" fill="#000" />
<rect x="702" y="69" width="1" height="17" fill="#000" />
<rect x="700" y="73" width="5" height="7" fill="#000" />
<rect x="710" y="63" width="1" height="29" fill="#000" />
<rect x="708" y="72" width="5" height="17" fill="#000" />
<rect x="718" y="85" width="1" height="32" fill="#000" />
<rect x="716" y="88" width="5" height="23" fill="#000" />
<rect x="726" y="103" width="1" height="33" fill="#000" />
<rect x="724" y="103" width="5" height="14" fill="#000" />
<rect x="725" y="104" width="3" height="12" fill="#fff" />
<rect x="734" y="106" width="1" height="20" fill="#000" />
<rect x="732" y="106" width="5" height="10" fill="#000" />
<rect x="742" y="101" width="1" height="46" fill="#000" />
<rect x="740" y="108" width="5" height="29" fill="#000" />
<rect x="750" y="122" width="1" height="14" fill="#000" />
<rect x="748" y="122" width="5" height="14" fill="#000" />
<rect x="749" y="123" width="3" height="12" fill="#fff" />
<rect x="758" y="103" width="1" height="41" fill="#000" />
<rect x="756" y="121" width="5" height="16" fill="#000" />
<rect x="766" y="125" width="1" height="17" fill="#000" />
<rect x="764" y="129" width="5" height="8" fill="#000" />
<rect x="765" y="130" width="3" height="6" fill="#fff" />
<rect x="774" y="115" width="1" height="21" fill="#000" />
<rect x="772" y="123" width="5" height="7" fill="#000" />
<rect x="782" y="126" width="1" height="11" fill="#000" />
<rect x="780" y="126" width="5" height="4" fill="#000" />
<rect x="781" y="127" width="3" height="2" fill="#fff" />
<rect x="790" y="106" width="1" height="27" fill="#000" />
<rect x="788" y="119" width="5" height="13" fill="#000" />
<rect x="789" y="120" width="3" height="11" fill="#fff" />
<rect x="798" y="117" width="1" height="24" fill="#000" />
<rect x="796" y="119" width="5" height="19" fill="#000" />
<rect x="806" y="104" width="1" height="29" fill="#000" />
<rect x="804" y="117" width="5" height="8" fill="#000" />
<rect x="805" y="118" width="3" height="6" fill="#fff" />
<rect x="814" y="109" width="1" height="13" fill="#000" />
<rect x="812" y="116" width="5" height="2" fill="#000" />
<rect x="822" y="103" width="1" height="63" fill="#000" />
<rect x="820" y="103" width="5" height="45" fill="#000" />
<rect x="830" y="137" width="1" height="19" fill="#000" />
<rect x="828" y="147" width="5" height="3" fill="#000" />
<rect x="838" y="141" width="1" height="17" fill="#000" />
<rect x="836" y="146" width="5" height="5" fill="#000" />
<rect x="846" y="147" width="1" height="19" fill="#000" />
<rect x="844" y="151" width="5" height="14" fill="#000" />
<rect x="854" y="155" width="1" height="41" fill="#000" />
<rect x="852" y="158" width="5" height="32" fill="#000" />
<rect x="853" y="159" width="3" height="30" fill="#fff" />
<rect x="862" y="153" width="1" height="18" fill="#000" />
<rect x="860" y="156" width="5" height="4" fill="#000" />
<rect x="861" y="157" width="3" height="2" fill="#fff" />
<rect x="870" y="122" width="1" height="37" fill="#000" />
<rect x="868" y="132" width="5" height="17" fill="#000" />
<rect x="869" y="133" width="3" height="15" fill="#fff" />
<rect x="878" y="120" width="1" height="18" fill="#000" />
<rect x="876" y="121" width="5" height="12" fill="#000" />
<rect x="877" y="122" width="3" height="10" fill="#fff" />
<rect x="886" y="148" width="1" height="25" fill="#000" />
<rect x="884" y="151" width="5" height="16" fill="#000" />
<rect x="894" y="153" width="1" height="26" fill="#000" />
<rect x="892" y="158" width="5" height="7" fill="#000" />
<rect x="893" y="159" width="3" height="5" fill="#fff" />
<rect x="902" y="146" width="1" height="28" fill="#000" />
<rect x="900" y="147" width="5" height="15" fill="#000" />
<rect x="910" y="159" width="1" height="28" fill="#000" />
<rect x="908" y="160" width="5" height="24" fill="#000" />
<rect x="918" y="127" width="1" height="42" fill="#000" />
<rect x="916" y="132" width="5" height="33" fill="#000" />
<rect x="917" y="133" width="3" height="31" fill="#fff" />
<rect x="926" y="110" width="1" height="26" fill="#000" />
<rect x="924" y="124" width="5" height="9" fill="#000" />
<rect x="925" y="125" width="3" height="7" fill="#fff" />
<rect x="934" y="100" width="1" height="29" fill="#000" />
<rect x="932" y="116" width="5" height="12" fill="#000" />
<rect x="933" y="117" width="3" height="10" fill="#fff" />
<rect x="942" y="109" width="1" height="11" fill="#000" />
<rect x="940" y="113" width="5" height="5" fill="#000" />
<rect x="941" y="114" width="3" height="3" fill="#fff" />
<rect x="950" y="83" width="1" height="34" fill="#000" />
<rect x="948" y="85" width="5" height="29" fill="#000" />
<rect x="949" y="86" width="3" height="27" fill="#fff" />
<rect x="958" y="76" width="1" height="14" fill="#000" />
<rect x="956" y="80" width="5" height="7" fill="#000" />
<rect x="957" y="81" width="3" height="5" fill="#fff" />
<rect x="966" y="67" width="1" height="23" fill="#000" />
<rect x="964" y="78" width="5" height="6" fill="#000" />
<rect x="965" y="79" width="3" height="4" fill="#fff" />
<rect x="974" y="76" width="1" height="31" fill="#000" />
<rect x="972" y="77" width="5" height="27" fill="#000" />
<rect x="982" y="99" width="1" height="21" fill="#000" />
<rect x="980" y="103" width="5" height="9" fill="#000" />
<rect x="990" y="91" width="1" height="30" fill="#000" />
<rect x="988" y="102" width="5" height="11" fill="#000" />
<rect x="998" y="107" width="1" height="31" fill="#000" />
<rect x="996" y="111" width="5" height="24" fill="#000" />
<rect x="1006" y="120" width="1" height="68" fill="#000" />
<rect x="1004" y="130" width="5" height="53" fill="#000" />
<rect x="1014" y="175" width="1" height="21" fill="#000" />
<rect x="1012" y="183" width="5" height="6" fill="#000" />
<rect x="1022" y="177" width="1" height="39" fill="#000" />
<rect x="1020" y="183" width="5" height="10" fill="#000" />
<rect x="1030" y="191" width="1" height="15" fill="#000" />
<rect x="1028" y="192" width="5" height="3" fill="#000" />
<rect x="1038" y="193" width="1" height="33" fill="#000" />
<rect x="1036" y="197" width="5" height="20" fill="#000" />
<rect x="1046" y="200" width="1" height="22" fill="#000" />
<rect x="1044" y="211" width="5" height="8" fill="#000" />
<rect x="1045" y="212" width="3" height="6" fill="#fff" />
<rect x="1054" y="213" width="1" height="24" fill="#000" />
<rect x="1052" y="222" width="5" height="4" fill="#000" />
<rect x="1053" y="223" width="3" height="2" fill="#fff" />
<rect x="1062" y="207" width="1" height="28" fill="#000" />
<rect x="1060" y="215" width="5" height="9" fill="#000" />
<rect x="1061" y="216" width="3" height="7" fill="#fff" />
<rect x="1070" y="217" width="1" height="61" fill="#000" />
<rect x="1068" y="220" width="5" height="54" fill="#000" />
<rect x="1078" y="274" width="1" height="33" fill="#000" />
<rect x="1076" y="274" width="5" height="31" fill="#000" />
<rect x="1086" y="278" width="1" height="54" fill="#000" />
<rect x="1084" y="285" width="5" height="27" fill="#000" />
<rect x="1085" y="286" width="3" height="25" fill="#fff" />
<rect x="1094" y="269" width="1" height="19" fill="#000" />
<rect x="1092" y="285" width="5" height="3" fill="#000" />
<rect x="1102" y="242" width="1" height="34" fill="#000" />
<rect x="1100" y="248" width="5" height="14" fill="#000" />
<rect x="1110" y="254" width="1" height="19" fill="#000" />
<rect x="1108" y="256" width="5" height="7" fill="#000" />
<rect x="1109" y="257" width="3" height="5" fill="#fff" />
<rect x="1118" y="202" width="1" height="48" fill="#000" />
<rect x="1116" y="205" width="5" height="41" fill="#000" />
<rect x="1117" y="206" width="3" height="39" fill="#fff" />
<rect x="1126" y="204" width="1" height="17" fill="#000" />
<rect x="1124" y="207" width="5" height="12" fill="#000" />
<rect x="1134" y="216" width="1" height="26" fill="#000" />
<rect x="1132" y="226" width="5" height="7" fill="#000" />
<rect x="1142" y="221" width="1" height="18" fill="#000" />
<rect x="1140" y="229" width="5" height="6" fill="#000" />
<rect x="1141" y="230" width="3" height="4" fill="#fff" />
<rect x="1150" y="184" width="1" height="60" fill="#000" />
<rect x="1148" y="191" width="5" height="52" fill="#000" />
<rect x="1149" y="192" width="3" height="50" fill="#fff" />
<rect x="1158" y="184" width="1" height="28" fill="#000" />
<rect x="1156" y="192" width="5" height="12" fill="#000" />
<rect x="1166" y="190" width="1" height="36" fill="#000" />
<rect x="1164" y="195" width="5" height="30" fill="#000" />
<rect x="1165" y="196" width="3" height="28" fill="#fff" />
<rect x="1174" y="180" width="1" height="26" fill="#000" />
<rect x="1172" y="195" width="5" height="8" fill="#000" />
<rect x="1182" y="232" width="1" height="44" fill="#000" />
<rect x="1180" y="237" width="5" height="23" fill="#000" />
<rect x="1190" y="253" width="1" height="18" fill="#000" />
<rect x="1188" y="261" width="5" height="4" fill="#000" />
<rect x="1198" y="256" width="1" height="49" fill="#000" />
<rect x="1196" y="276" width="5" height="23" fill="#000" />
<rect x="1206" y="279" width="1" height="24" fill="#000" />
<rect x="1204" y="289" width="5" height="8" fill="#000" />
<rect x="1205" y="290" width="3" height="6" fill="#fff" />
<rect x="1214" y="271" width="1" height="54" fill="#000" />
<rect x="1212" y="279" width="5" height="23" fill="#000" />
<rect x="1222" y="289" width="1" height="23" fill="#000" />
<rect x="1220" y="289" width="5" height="14" fill="#000" />
<rect x="1221" y="290" width="3" height="12" fill="#fff" />
<rect x="1230" y="229" width="1" height="41" fill="#000" />
<rect x="1228" y="237" width="5" height="32" fill="#000" />
<rect x="1229" y="238" width="3" height="30" fill="#fff" />
<rect x="1238" y="235" width="1" height="13" fill="#000" />
<rect x="1236" y="237" width="5" height="1" fill="#000" />
<rect x="1246" y="236" width="1" height="37" fill="#000" />
<rect x="1244" y="237" width="5" height="31" fill="#000" />
<rect x="1254" y="266" width="1" height="27" fill="#000" />
<rect x="1252" y="268" width="5" height="17" fill="#000" />
<rect x="1262" y="326" width="1" height="48" fill="#000" />
<rect x="1260" y="326" width="5" height="40" fill="#000" />
<rect x="1270" y="365" width="1" height="48" fill="#000" />
<rect x="1268" y="365" width="5" height="46" fill="#000" />
<rect x="1278" y="387" width="1" height="69" fill="#000" />
<rect x="1276" y="412" width="5" height="18" fill="#000" />
<rect x="1286" y="430" width="1" height="134" fill="#000" />
<rect x="1284" y="430" width="5" height="100" fill="#000" />
<rect x="1294" y="477" width="1" height="72" fill="#000" />
<rect x="1292" y="502" width="5" height="34" fill="#000" />
<rect x="1302" y="489" width="1" height="69" fill="#000" />
<rect x="1300" y="501" width="5" height="38" fill="#000" />
<rect x="1301" y="502" width="3" height="36" fill="#fff" />
<rect x="1310" y="407" width="1" height="46" fill="#000" />
<rect x="1308" y="419" width="5" height="1" fill="#000" />
<rect x="1318" y="398" width="1" height="26" fill="#000" />
<rect x="1316" y="400" width="5" height="20" fill="#000" />
<rect x="1317" y="401" width="3" height="18" fill="#fff" />
<rect x="1326" y="415" width="1" height="50" fill="#000" />
<rect x="1324" y="439" width="5" height="20" fill="#000" />
<rect x="1334" y="432" width="1" height="42" fill="#000" />
<rect x="1332" y="436" width="5" height="29" fill="#000" />
<rect x="1333" y="437" width="3" height="27" fill="#fff" />
<rect x="1342" y="398" width="1" height="65" fill="#000" />
<rect x="1340" y="410" width="5" height="19" fill="#000" />
<rect x="1341" y="411" width="3" height="17" fill="#fff" />
<rect x="1350" y="398" width="1" height="23" fill="#000" />
<rect x="1348" y="412" width="5" height="1" fill="#000" />
<rect x="1358" y="398" width="1" height="60" fill="#000" />
<rect x="1356" y="410" width="5" height="26" fill="#000" />
<rect x="1366" y="404" width="1" height="32" fill="#000" />
<rect x="1364" y="418" width="5" height="18" fill="#000" />
<rect x="1365" y="419" width="3" height="16" fill="#fff" />
<rect x="1374" y="360" width="1" height="74" fill="#000" />
<rect x="1372" y="365" width="5" height="59" fill="#000" />
<rect x="1373" y="366" width="3" height="57" fill="#fff" />
<rect x="1382" y="366" width="1" height="27" fill="#000" />
<rect x="1380" y="366" width="5" height="20" fill="#000" />
<rect x="1390" y="371" width="1" height="23" fill="#000" />
<rect x="1388" y="385" width="5" height="7" fill="#000" />
<rect x="1398" y="383" width="1" height="36" fill="#000" />
<rect x="1396" y="391" width="5" height="23" fill="#000" />
<rect x="1406" y="395" width="1" height="41" fill="#000" />
<rect x="1404" y="400" width="5" height="12" fill="#000" />
<rect x="1414" y="398" width="1" height="22" fill="#000" />
<rect x="1412" y="411" width="5" height="1" fill="#000" />
<rect x="1422" y="373" width="1" height="74" fill="#000" />
<rect x="1420" y="385" width="5" height="60" fill="#000" />
<rect x="1421" y="386" width="3" height="58" fill="#fff" />
<rect x="1430" y="385" width="1" height="23" fill="#000" />
<rect x="1428" y="385" width="5" height="18" fill="#000" />
</g>
<line x1="1283" y1="558" x2="1376.4" y2="378.8" stroke="#ff0000" stroke-width="3.1" shape-rendering="crispEdges"/>
<polygon points="1381.5,369.0 1381.0,381.2 1371.8,376.4" fill="#ff0000"/>
<line x1="1381.5" y1="370" x2="1420.9" y2="437.0" stroke="#ff0000" stroke-width="3.1" shape-rendering="crispEdges"/>
<polygon points="1426.5,446.5 1416.4,439.7 1425.4,434.4" fill="#ff0000"/>
<line x1="1426.5" y1="446" x2="1426.5" y2="393.0" stroke="#ff0000" stroke-width="3.1" shape-rendering="crispEdges"/>
<polygon points="1426.5,382.0 1431.7,393.0 1421.3,393.0" fill="#ff0000"/>
<line x1="1426.5" y1="382.5" x2="1440.2" y2="392.3" stroke="#ff0000" stroke-width="3.1" shape-rendering="crispEdges"/>
<polygon points="1447.5,397.5 1437.7,395.7 1442.6,388.9" fill="#ff0000"/>
<rect x="1311" y="394" width="165" height="8" fill="#00ff00" shape-rendering="crispEdges"/>
<rect x="1519.5" y="399.5" width="110" height="24" fill="#fff" stroke="#303030" stroke-width="1" shape-rendering="crispEdges"/>
<text x="1521.5" y="419.5" font-size="21.2" fill="#00ff00" textLength="106" lengthAdjust="spacingAndGlyphs" style="font-family:'Liberation Sans','Noto Sans CJK SC',sans-serif">多空转折点</text>
<rect x="1651.5" y="425.5" width="4" height="4" fill="#fff" stroke="#0000ff" stroke-width="1" shape-rendering="crispEdges"/>
<rect x="1651.5" y="444.5" width="4" height="4" fill="#fff" stroke="#0000ff" stroke-width="1" shape-rendering="crispEdges"/>
<polygon points="1433,24 1445,24 1439,30" fill="#b4b4b4"/>
<g shape-rendering="crispEdges" clip-path="url(#c2)">
<rect x="6" y="627" width="1" height="48" fill="#c0c0c0" />
<rect x="14" y="627" width="1" height="44" fill="#c0c0c0" />
<rect x="22" y="627" width="1" height="37" fill="#c0c0c0" />
<rect x="30" y="627" width="1" height="31" fill="#c0c0c0" />
<rect x="38" y="627" width="1" height="30" fill="#c0c0c0" />
<rect x="46" y="627" width="1" height="28" fill="#c0c0c0" />
<rect x="54" y="627" width="1" height="23" fill="#c0c0c0" />
<rect x="62" y="627" width="1" height="16" fill="#c0c0c0" />
<rect x="70" y="627" width="1" height="12" fill="#c0c0c0" />
<rect x="78" y="627" width="1" height="11" fill="#c0c0c0" />
<rect x="86" y="627" width="1" height="5" fill="#c0c0c0" />
<rect x="94" y="626" width="1" height="2" fill="#c0c0c0" />
<rect x="102" y="625" width="1" height="3" fill="#c0c0c0" />
<rect x="110" y="626" width="1" height="2" fill="#c0c0c0" />
<rect x="118" y="627" width="1" height="1" fill="#c0c0c0" />
<rect x="126" y="627" width="1" height="4" fill="#c0c0c0" />
<rect x="134" y="627" width="1" height="3" fill="#c0c0c0" />
<rect x="142" y="627" width="1" height="2" fill="#c0c0c0" />
<rect x="150" y="627" width="1" height="1" fill="#c0c0c0" />
<rect x="158" y="624" width="1" height="4" fill="#c0c0c0" />
<rect x="166" y="627" width="1" height="1" fill="#c0c0c0" />
<rect x="174" y="624" width="1" height="4" fill="#c0c0c0" />
<rect x="182" y="624" width="1" height="4" fill="#c0c0c0" />
<rect x="190" y="620" width="1" height="8" fill="#c0c0c0" />
<rect x="198" y="614" width="1" height="14" fill="#c0c0c0" />
<rect x="206" y="612" width="1" height="16" fill="#c0c0c0" />
<rect x="214" y="610" width="1" height="18" fill="#c0c0c0" />
<rect x="222" y="608" width="1" height="20" fill="#c0c0c0" />
<rect x="230" y="613" width="1" height="15" fill="#c0c0c0" />
<rect x="238" y="620" width="1" height="8" fill="#c0c0c0" />
<rect x="246" y="621" width="1" height="7" fill="#c0c0c0" />
<rect x="254" y="623" width="1" height="5" fill="#c0c0c0" />
<rect x="262" y="620" width="1" height="8" fill="#c0c0c0" />
<rect x="270" y="617" width="1" height="11" fill="#c0c0c0" />
<rect x="278" y="615" width="1" height="13" fill="#c0c0c0" />
<rect x="286" y="615" width="1" height="13" fill="#c0c0c0" />
<rect x="294" y="616" width="1" height="12" fill="#c0c0c0" />
<rect x="302" y="617" width="1" height="11" fill="#c0c0c0" />
<rect x="310" y="619" width="1" height="9" fill="#c0c0c0" />
<rect x="318" y="621" width="1" height="7" fill="#c0c0c0" />
<rect x="326" y="617" width="1" height="11" fill="#c0c0c0" />
<rect x="334" y="615" width="1" height="13" fill="#c0c0c0" />
<rect x="342" y="621" width="1" height="7" fill="#c0c0c0" />
<rect x="350" y="627" width="1" height="1" fill="#c0c0c0" />
<rect x="358" y="627" width="1" height="10" fill="#c0c0c0" />
<rect x="366" y="627" width="1" height="17" fill="#c0c0c0" />
<rect x="374" y="627" width="1" height="21" fill="#c0c0c0" />
<rect x="382" y="627" width="1" height="21" fill="#c0c0c0" />
<rect x="390" y="627" width="1" height="21" fill="#c0c0c0" />
<rect x="398" y="627" width="1" height="23" fill="#c0c0c0" />
<rect x="406" y="627" width="1" height="23" fill="#c0c0c0" />
<rect x="414" y="627" width="1" height="20" fill="#c0c0c0" />
<rect x="422" y="627" width="1" height="17" fill="#c0c0c0" />
<rect x="430" y="627" width="1" height="17" fill="#c0c0c0" />
<rect x="438" y="627" width="1" height="16" fill="#c0c0c0" />
<rect x="446" y="627" width="1" height="16" fill="#c0c0c0" />
<rect x="454" y="627" width="1" height="23" fill="#c0c0c0" />
<rect x="462" y="627" width="1" height="31" fill="#c0c0c0" />
<rect x="470" y="627" width="1" height="36" fill="#c0c0c0" />
<rect x="478" y="627" width="1" height="37" fill="#c0c0c0" />
<rect x="486" y="627" width="1" height="39" fill="#c0c0c0" />
<rect x="494" y="627" width="1" height="43" fill="#c0c0c0" />
<rect x="502" y="627" width="1" height="44" fill="#c0c0c0" />
<rect x="510" y="627" width="1" height="41" fill="#c0c0c0" />
<rect x="518" y="627" width="1" height="38" fill="#c0c0c0" />
<rect x="526" y="627" width="1" height="35" fill="#c0c0c0" />
<rect x="534" y="627" width="1" height="26" fill="#c0c0c0" />
<rect x="542" y="627" width="1" height="18" fill="#c0c0c0" />
<rect x="550" y="627" width="1" height="15" fill="#c0c0c0" />
<rect x="558" y="627" width="1" height="12" fill="#c0c0c0" />
<rect x="566" y="627" width="1" height="11" fill="#c0c0c0" />
<rect x="574" y="627" width="1" height="8" fill="#c0c0c0" />
<rect x="582" y="627" width="1" height="7" fill="#c0c0c0" />
<rect x="590" y="627" width="1" height="5" fill="#c0c0c0" />
<rect x="598" y="625" width="1" height="3" fill="#c0c0c0" />
<rect x="606" y="617" width="1" height="11" fill="#c0c0c0" />
<rect x="614" y="608" width="1" height="20" fill="#c0c0c0" />
<rect x="622" y="601" width="1" height="27" fill="#c0c0c0" />
<rect x="630" y="597" width="1" height="31" fill="#c0c0c0" />
<rect x="638" y="594" width="1" height="34" fill="#c0c0c0" />
<rect x="646" y="590" width="1" height="38" fill="#c0c0c0" />
<rect x="654" y="590" width="1" height="38" fill="#c0c0c0" />
<rect x="662" y="592" width="1" height="36" fill="#c0c0c0" />
<rect x="670" y="593" width="1" height="35" fill="#c0c0c0" />
<rect x="678" y="592" width="1" height="36" fill="#c0c0c0" />
<rect x="686" y="588" width="1" height="40" fill="#c0c0c0" />
<rect x="694" y="588" width="1" height="40" fill="#c0c0c0" />
<rect x="702" y="589" width="1" height="39" fill="#c0c0c0" />
<rect x="710" y="592" width="1" height="36" fill="#c0c0c0" />
<rect x="718" y="597" width="1" height="31" fill="#c0c0c0" />
<rect x="726" y="600" width="1" height="28" fill="#c0c0c0" />
<rect x="734" y="605" width="1" height="23" fill="#c0c0c0" />
<rect x="742" y="611" width="1" height="17" fill="#c0c0c0" />
<rect x="750" y="615" width="1" height="13" fill="#c0c0c0" />
<rect x="758" y="619" width="1" height="9" fill="#c0c0c0" />
<rect x="766" y="622" width="1" height="6" fill="#c0c0c0" />
<rect x="774" y="624" width="1" height="4" fill="#c0c0c0" />
<rect x="782" y="626" width="1" height="2" fill="#c0c0c0" />
<rect x="790" y="626" width="1" height="2" fill="#c0c0c0" />
<rect x="798" y="627" width="1" height="1" fill="#c0c0c0" />
<rect x="806" y="627" width="1" height="1" fill="#c0c0c0" />
<rect x="814" y="627" width="1" height="1" fill="#c0c0c0" />
<rect x="822" y="627" width="1" height="4" fill="#c0c0c0" />
<rect x="830" y="627" width="1" height="7" fill="#c0c0c0" />
<rect x="838" y="627" width="1" height="9" fill="#c0c0c0" />
<rect x="846" y="627" width="1" height="13" fill="#c0c0c0" />
<rect x="854" y="627" width="1" height="15" fill="#c0c0c0" />
<rect x="862" y="627" width="1" height="16" fill="#c0c0c0" />
<rect x="870" y="627" width="1" height="12" fill="#c0c0c0" />
<rect x="878" y="627" width="1" height="11" fill="#c0c0c0" />
<rect x="886" y="627" width="1" height="12" fill="#c0c0c0" />
<rect x="894" y="627" width="1" height="13" fill="#c0c0c0" />
<rect x="902" y="627" width="1" height="15" fill="#c0c0c0" />
<rect x="910" y="627" width="1" height="18" fill="#c0c0c0" />
<rect x="918" y="627" width="1" height="14" fill="#c0c0c0" />
<rect x="926" y="627" width="1" height="10" fill="#c0c0c0" />
<rect x="934" y="627" width="1" height="6" fill="#c0c0c0" />
<rect x="942" y="627" width="1" height="1" fill="#c0c0c0" />
<rect x="950" y="623" width="1" height="5" fill="#c0c0c0" />
<rect x="958" y="617" width="1" height="11" fill="#c0c0c0" />
<rect x="966" y="613" width="1" height="15" fill="#c0c0c0" />
<rect x="974" y="612" width="1" height="16" fill="#c0c0c0" />
<rect x="982" y="613" width="1" height="15" fill="#c0c0c0" />
<rect x="990" y="614" width="1" height="14" fill="#c0c0c0" />
<rect x="998" y="617" width="1" height="11" fill="#c0c0c0" />
<rect x="1006" y="627" width="1" height="1" fill="#c0c0c0" />
<rect x="1014" y="627" width="1" height="8" fill="#c0c0c0" />
<rect x="1022" y="627" width="1" height="14" fill="#c0c0c0" />
<rect x="1030" y="627" width="1" height="20" fill="#c0c0c0" />
<rect x="1038" y="627" width="1" height="26" fill="#c0c0c0" />
<rect x="1046" y="627" width="1" height="31" fill="#c0c0c0" />
<rect x="1054" y="627" width="1" height="35" fill="#c0c0c0" />
<rect x="1062" y="627" width="1" height="37" fill="#c0c0c0" />
<rect x="1070" y="627" width="1" height="45" fill="#c0c0c0" />
<rect x="1078" y="627" width="1" height="56" fill="#c0c0c0" />
<rect x="1086" y="627" width="1" height="60" fill="#c0c0c0" />
<rect x="1094" y="627" width="1" height="63" fill="#c0c0c0" />
<rect x="1102" y="627" width="1" height="62" fill="#c0c0c0" />
<rect x="1110" y="627" width="1" height="60" fill="#c0c0c0" />
<rect x="1118" y="627" width="1" height="52" fill="#c0c0c0" />
<rect x="1126" y="627" width="1" height="45" fill="#c0c0c0" />
<rect x="1134" y="627" width="1" height="42" fill="#c0c0c0" />
<rect x="1142" y="627" width="1" height="39" fill="#c0c0c0" />
<rect x="1150" y="627" width="1" height="31" fill="#c0c0c0" />
<rect x="1158" y="627" width="1" height="26" fill="#c0c0c0" />
<rect x="1166" y="627" width="1" height="20" fill="#c0c0c0" />
<rect x="1174" y="627" width="1" height="17" fill="#c0c0c0" />
<rect x="1182" y="627" width="1" height="21" fill="#c0c0c0" />
<rect x="1190" y="627" width="1" height="25" fill="#c0c0c0" />
<rect x="1198" y="627" width="1" height="32" fill="#c0c0c0" />
<rect x="1206" y="627" width="1" height="36" fill="#c0c0c0" />
<rect x="1214" y="627" width="1" height="40" fill="#c0c0c0" />
<rect x="1222" y="627" width="1" height="41" fill="#c0c0c0" />
<rect x="1230" y="627" width="1" height="35" fill="#c0c0c0" />
<rect x="1238" y="627" width="1" height="30" fill="#c0c0c0" />
<rect x="1246" y="627" width="1" height="31" fill="#c0c0c0" />
<rect x="1254" y="627" width="1" height="36" fill="#c0c0c0" />
<rect x="1262" y="627" width="1" height="42" fill="#c0c0c0" />
<rect x="1270" y="627" width="1" height="56" fill="#c0c0c0" />
<rect x="1278" y="627" width="1" height="68" fill="#c0c0c0" />
<rect x="1286" y="627" width="1" height="90" fill="#c0c0c0" />
<rect x="1294" y="627" width="1" height="106" fill="#c0c0c0" />
<rect x="1302" y="627" width="1" height="114" fill="#c0c0c0" />
<rect x="1310" y="627" width="1" height="110" fill="#c0c0c0" />
<rect x="1318" y="627" width="1" height="103" fill="#c0c0c0" />
<rect x="1326" y="627" width="1" height="101" fill="#c0c0c0" />
<rect x="1334" y="627" width="1" height="94" fill="#c0c0c0" />
<rect x="1342" y="627" width="1" height="86" fill="#c0c0c0" />
<rect x="1350" y="627" width="1" height="81" fill="#c0c0c0" />
<rect x="1358" y="627" width="1" height="74" fill="#c0c0c0" />
<rect x="1366" y="627" width="1" height="67" fill="#c0c0c0" />
<rect x="1374" y="627" width="1" height="60" fill="#c0c0c0" />
<rect x="1382" y="627" width="1" height="54" fill="#c0c0c0" />
<rect x="1390" y="627" width="1" height="49" fill="#c0c0c0" />
<rect x="1398" y="627" width="1" height="45" fill="#c0c0c0" />
<rect x="1406" y="627" width="1" height="41" fill="#c0c0c0" />
<rect x="1414" y="627" width="1" height="36" fill="#c0c0c0" />
<rect x="1422" y="627" width="1" height="32" fill="#c0c0c0" />
<rect x="1430" y="627" width="1" height="30" fill="#c0c0c0" />
<path d="M710 590.5h1M714 590.5h3M720 590.5h3M696 591.5h3M702 591.5h3M708 591.5h2M726 591.5h3M690 592.5h3M732 592.5h3M684 593.5h3M679 594.5h2M738 594.5h3M678 595.5h1M674 596.5h1M744 596.5h2M672 597.5h2M746 597.5h1M750 598.5h2M666 599.5h3M752 599.5h1M662 601.5h1M756 601.5h2M660 602.5h2M758 602.5h1M656 604.5h1M762 604.5h2M654 605.5h2M764 605.5h1M768 606.5h1M650 607.5h1M769 607.5h2M649 608.5h1M648 609.5h1M774 609.5h2M776 610.5h1M780 611.5h1M643 612.5h2M781 612.5h2M642 613.5h1M786 614.5h2M788 615.5h1M230 616.5h1M234 616.5h3M240 616.5h3M246 616.5h3M252 616.5h3M258 616.5h3M264 616.5h3M270 616.5h3M276 616.5h1M330 616.5h3M336 616.5h3M638 616.5h1M222 617.5h3M228 617.5h2M277 617.5h2M282 617.5h3M288 617.5h3M294 617.5h3M300 617.5h3M306 617.5h3M312 617.5h3M318 617.5h3M324 617.5h3M342 617.5h3M348 617.5h2M636 617.5h2M792 617.5h2M1008 617.5h2M216 618.5h3M350 618.5h1M794 618.5h1M1002 618.5h3M1010 618.5h1M1014 618.5h2M212 619.5h1M354 619.5h3M632 619.5h1M798 619.5h2M997 619.5h2M1016 619.5h1M1020 619.5h2M210 620.5h2M360 620.5h1M630 620.5h2M800 620.5h1M996 620.5h1M1022 620.5h1M206 621.5h1M361 621.5h2M804 621.5h3M991 621.5h2M1026 621.5h1M204 622.5h2M810 622.5h2M990 622.5h1M1027 622.5h2M199 623.5h2M366 623.5h1M625 623.5h2M812 623.5h1M986 623.5h1M198 624.5h1M367 624.5h2M624 624.5h1M816 624.5h3M984 624.5h2M1032 624.5h1M192 625.5h3M822 625.5h1M1033 625.5h2M372 626.5h1M619 626.5h2M823 626.5h2M979 626.5h2M174 627.5h3M180 627.5h3M186 627.5h3M373 627.5h2M618 627.5h1M828 627.5h3M978 627.5h1M152 628.5h1M156 628.5h3M162 628.5h3M168 628.5h3M378 628.5h3M834 628.5h3M840 628.5h2M973 628.5h2M1038 628.5h2M144 629.5h3M150 629.5h2M384 629.5h1M613 629.5h2M842 629.5h1M972 629.5h1M1040 629.5h1M138 630.5h3M385 630.5h2M612 630.5h1M846 630.5h3M968 630.5h1M132 631.5h3M966 631.5h2M1044 631.5h1M126 632.5h3M390 632.5h1M607 632.5h2M852 632.5h3M962 632.5h1M1045 632.5h2M121 633.5h2M391 633.5h1M606 633.5h1M858 633.5h1M960 633.5h2M120 634.5h1M392 634.5h1M602 634.5h1M859 634.5h2M956 634.5h1M114 635.5h3M600 635.5h2M864 635.5h3M954 635.5h2M1050 635.5h2M109 636.5h2M396 636.5h2M870 636.5h3M876 636.5h1M949 636.5h2M1052 636.5h1M108 637.5h1M398 637.5h1M595 637.5h2M877 637.5h2M882 637.5h3M948 637.5h1M594 638.5h1M888 638.5h3M894 638.5h1M942 638.5h3M103 639.5h2M402 639.5h1M895 639.5h2M900 639.5h3M936 639.5h3M1056 639.5h2M102 640.5h1M403 640.5h2M589 640.5h2M906 640.5h3M924 640.5h3M930 640.5h3M1058 640.5h1M588 641.5h1M912 641.5h3M918 641.5h3M97 642.5h2M408 642.5h1M96 643.5h1M409 643.5h2M584 643.5h1M92 644.5h1M582 644.5h2M1062 644.5h2M90 645.5h2M414 645.5h3M1064 645.5h1M420 646.5h3M444 646.5h3M450 646.5h3M456 646.5h1M578 646.5h1M86 647.5h1M426 647.5h3M432 647.5h3M438 647.5h3M457 647.5h2M577 647.5h1M84 648.5h2M462 648.5h3M576 648.5h1M1068 648.5h1M468 649.5h3M1069 649.5h1M80 650.5h1M474 650.5h3M571 650.5h2M1070 650.5h1M78 651.5h2M480 651.5h2M570 651.5h1M482 652.5h1M486 653.5h3M565 653.5h2M1074 653.5h1M73 654.5h2M564 654.5h1M1075 654.5h1M1207 654.5h2M1212 654.5h3M72 655.5h1M492 655.5h3M1076 655.5h1M1200 655.5h3M1206 655.5h1M1218 655.5h3M1224 655.5h2M498 656.5h1M559 656.5h2M1194 656.5h3M1226 656.5h1M1230 656.5h3M68 657.5h1M499 657.5h2M558 657.5h1M1188 657.5h3M1236 657.5h2M66 658.5h2M1080 658.5h2M1184 658.5h1M1238 658.5h1M1242 658.5h2M504 659.5h1M553 659.5h2M1082 659.5h1M1182 659.5h2M1244 659.5h1M1248 659.5h3M505 660.5h2M552 660.5h1M1178 660.5h1M1254 660.5h3M61 661.5h2M548 661.5h1M1176 661.5h2M1260 661.5h3M60 662.5h1M510 662.5h3M546 662.5h2M1086 662.5h1M1266 662.5h1M516 663.5h3M522 663.5h1M540 663.5h3M1087 663.5h1M1267 663.5h2M55 664.5h2M523 664.5h2M528 664.5h3M534 664.5h3M1088 664.5h1M1171 664.5h2M1272 664.5h1M54 665.5h1M1170 665.5h1M1273 665.5h2M0 666.5h1M1092 666.5h1M1 667.5h2M49 667.5h2M1093 667.5h2M48 668.5h1M1165 668.5h2M1278 668.5h2M1098 669.5h1M1164 669.5h1M1280 669.5h1M6 670.5h2M42 670.5h3M1099 670.5h1M8 671.5h1M37 671.5h2M1100 671.5h1M1160 671.5h1M12 672.5h3M36 672.5h1M1159 672.5h1M1284 672.5h1M18 673.5h3M30 673.5h3M1104 673.5h2M1158 673.5h1M1285 673.5h1M24 674.5h3M1106 674.5h1M1286 674.5h1M1110 675.5h3M1154 675.5h1M1152 676.5h2M1427 676.5h1M1116 677.5h3M1290 677.5h1M1122 678.5h1M1146 678.5h3M1291 678.5h1M1123 679.5h2M1140 679.5h3M1292 679.5h1M1423 679.5h1M1128 680.5h3M1134 680.5h3M1421 680.5h2M1296 682.5h1M1297 683.5h1M1417 683.5h1M1298 684.5h1M1415 684.5h2M1411 687.5h1M1301 688.5h1M1410 688.5h1M1302 689.5h1M1409 689.5h1M1303 690.5h1M1404 692.5h2M1403 693.5h1M1307 694.5h1M1308 695.5h1M1309 696.5h1M1399 696.5h1M1397 697.5h2M1313 700.5h1M1393 700.5h1M1314 701.5h1M1392 701.5h1M1315 702.5h1M1391 702.5h1M1387 704.5h1M1386 705.5h1M1319 706.5h1M1385 706.5h1M1320 707.5h1M1321 708.5h1M1380 709.5h2M1379 710.5h1M1325 712.5h2M1327 713.5h1M1375 713.5h1M1373 714.5h2M1331 717.5h1M1369 717.5h1M1332 718.5h1M1367 718.5h2M1333 719.5h1M1362 720.5h2M1337 721.5h2M1361 721.5h1M1339 722.5h1M1357 722.5h1M1343 723.5h3M1355 723.5h2M1349 724.5h3" stroke="#ff0000" stroke-width="1" fill="none"/>
</g>
<line x1="1309.5" y1="738.5" x2="1425.3" y2="657.7" stroke="#ff0000" stroke-width="3.1" shape-rendering="crispEdges"/>
<polygon points="1433.5,652.0 1428.0,661.7 1422.6,653.8" fill="#ff0000"/>
<g shape-rendering="crispEdges" clip-path="url(#c3)">
<line x1="0" y1="786.5" x2="1656" y2="786.5" stroke="#c0c0c0" stroke-width="1" stroke-dasharray="3,3"/>
<line x1="0" y1="837.5" x2="1656" y2="837.5" stroke="#c0c0c0" stroke-width="1" stroke-dasharray="3,3"/>
<line x1="0" y1="898.5" x2="1656" y2="898.5" stroke="#c0c0c0" stroke-width="1" stroke-dasharray="3,3"/>
<path d="M15.5 846v2M18.5 842v2M21.5 838v2M47.5 846v2M48.5 844v2M50.5 841v2M52.5 838v2M53.5 836v2M79.5 838v2M80.5 836v2M82.5 833v2M84.5 830v2M85.5 828v2M95.5 824v2M98.5 828v2M101.5 832v2M112.5 840v2M116.5 845v2M128.5 842v2M132.5 837v2M146.5 836v2M159.5 829v2M160.5 831v2M162.5 834v2M164.5 837v2M165.5 839v2M222.5 826v2M223.5 828v2M224.5 830v2M225.5 832v2M226.5 834v2M227.5 836v2M228.5 838v2M229.5 840v2M230.5 842v2M258.5 833v2M319.5 835v2M322.5 831v2M325.5 827v2M334.5 825v2M335.5 827v2M336.5 829v3M337.5 832v3M338.5 835v2M339.5 837v3M340.5 840v3M341.5 843v2M342.5 845v2M351.5 853v2M353.5 856v2M355.5 859v2M357.5 862v2M376.5 854v2M380.5 849v2M408.5 848v2M412.5 843v2M446.5 843v2M447.5 845v3M448.5 848v2M449.5 850v3M450.5 853v3M451.5 856v3M452.5 859v2M453.5 861v3M454.5 864v2M471.5 865v2M472.5 863v2M473.5 861v2M475.5 858v2M476.5 856v2M477.5 854v2M495.5 864v2M496.5 862v2M498.5 859v2M500.5 856v2M501.5 854v2M527.5 840v2M528.5 838v2M530.5 835v2M532.5 832v2M533.5 830v2M591.5 832v2M592.5 830v2M593.5 828v2M594.5 826v2M595.5 824v2M596.5 822v2M597.5 820v2M598.5 818v2M626.5 810v2M647.5 810v2M650.5 814v2M653.5 818v2M690.5 814v2M714.5 830v2M794.5 841v2M802.5 841v2M815.5 836v2M816.5 838v2M817.5 840v2M819.5 843v2M820.5 845v2M821.5 847v2M863.5 850v2M864.5 848v2M865.5 846v2M867.5 843v2M868.5 841v2M869.5 839v2M878.5 833v2M879.5 835v2M880.5 837v2M881.5 839v3M882.5 842v2M883.5 844v3M884.5 847v2M885.5 849v2M886.5 851v2M910.5 857v2M911.5 854v3M912.5 851v3M913.5 848v3M914.5 845v3M915.5 842v3M916.5 839v3M917.5 836v3M918.5 834v2M944.5 824v2M948.5 819v2M967.5 816v2M968.5 818v2M970.5 821v2M972.5 824v2M973.5 826v2M992.5 834v2M996.5 839v2M998.5 842v2M999.5 844v2M1000.5 846v2M1001.5 848v2M1002.5 850v3M1003.5 853v2M1004.5 855v2M1005.5 857v2M1006.5 859v2M1063.5 867v2M1064.5 869v2M1065.5 871v2M1066.5 873v2M1067.5 875v2M1068.5 877v2M1069.5 879v2M1080.5 883v2M1084.5 878v2M1095.5 874v2M1096.5 872v2M1098.5 869v2M1100.5 866v2M1101.5 864v2M1110.5 859v2M1111.5 857v2M1112.5 854v3M1113.5 851v3M1114.5 849v2M1115.5 846v3M1116.5 843v3M1117.5 841v2M1118.5 839v2M1143.5 844v2M1144.5 842v2M1146.5 839v2M1148.5 836v2M1149.5 834v2M1174.5 837v2M1175.5 839v2M1176.5 841v2M1177.5 843v2M1178.5 845v3M1179.5 848v2M1180.5 850v2M1181.5 852v2M1182.5 854v2M1222.5 857v2M1223.5 855v2M1224.5 853v2M1225.5 850v3M1226.5 848v2M1227.5 845v3M1228.5 843v2M1229.5 841v2M1230.5 839v2M1242.5 843v2M1254.5 854v2M1255.5 856v2M1256.5 858v2M1257.5 860v2M1258.5 862v2M1259.5 864v2M1260.5 866v2M1261.5 868v2M1262.5 870v2M1279.5 880v2M1282.5 884v2M1285.5 888v2M1295.5 888v2M1298.5 884v2M1301.5 880v2M1302.5 878v2M1303.5 875v3M1304.5 872v3M1305.5 869v3M1306.5 867v2M1307.5 864v3M1308.5 861v3M1309.5 858v3M1310.5 856v2M1367.5 847v2M1369.5 844v2M1371.5 841v2M1373.5 838v2M620 806.5h3M616 807.5h4M623 807.5h1M614 808.5h2M624 808.5h1M612 809.5h2M625 809.5h1M645 809.5h2M610 810.5h2M643 810.5h2M686 810.5h1M609 811.5h1M641 811.5h2M685 811.5h1M687 811.5h1M607 812.5h2M627 812.5h1M639 812.5h2M648 812.5h1M684 812.5h1M688 812.5h1M606 813.5h1M628 813.5h1M636 813.5h3M649 813.5h1M682 813.5h2M689 813.5h1M604 814.5h2M629 814.5h1M632 814.5h4M681 814.5h1M602 815.5h2M630 815.5h2M680 815.5h1M956 815.5h11M601 816.5h1M651 816.5h1M679 816.5h1M691 816.5h1M952 816.5h4M599 817.5h2M652 817.5h1M678 817.5h1M692 817.5h1M950 817.5h2M676 818.5h2M693 818.5h1M949 818.5h1M675 819.5h1M694 819.5h2M654 820.5h1M674 820.5h1M696 820.5h2M969 820.5h1M198 821.5h1M655 821.5h1M672 821.5h2M698 821.5h3M947 821.5h1M196 822.5h2M199 822.5h1M656 822.5h2M671 822.5h1M701 822.5h2M946 822.5h1M93 823.5h2M195 823.5h1M200 823.5h1M658 823.5h1M669 823.5h2M703 823.5h2M945 823.5h1M971 823.5h1M91 824.5h2M194 824.5h1M201 824.5h1M659 824.5h1M666 824.5h3M705 824.5h2M89 825.5h2M192 825.5h2M202 825.5h2M330 825.5h4M660 825.5h2M664 825.5h2M707 825.5h2M87 826.5h2M96 826.5h1M191 826.5h1M204 826.5h1M212 826.5h10M274 826.5h5M326 826.5h4M662 826.5h2M709 826.5h2M943 826.5h1M86 827.5h1M97 827.5h1M190 827.5h1M205 827.5h1M208 827.5h4M268 827.5h6M279 827.5h1M711 827.5h1M938 827.5h5M157 828.5h2M188 828.5h2M206 828.5h2M264 828.5h4M280 828.5h2M712 828.5h1M933 828.5h5M974 828.5h1M62 829.5h1M155 829.5h2M187 829.5h1M262 829.5h2M282 829.5h1M324 829.5h1M534 829.5h9M713 829.5h1M930 829.5h3M975 829.5h2M60 830.5h2M63 830.5h2M99 830.5h1M153 830.5h2M186 830.5h1M261 830.5h1M283 830.5h1M323 830.5h1M543 830.5h1M928 830.5h2M977 830.5h2M59 831.5h1M65 831.5h1M100 831.5h1M151 831.5h2M184 831.5h2M260 831.5h1M284 831.5h2M544 831.5h1M925 831.5h3M979 831.5h2M58 832.5h1M66 832.5h2M83 832.5h1M150 832.5h1M183 832.5h1M259 832.5h1M286 832.5h2M545 832.5h1M715 832.5h1M922 832.5h3M981 832.5h10M56 833.5h2M68 833.5h2M149 833.5h1M161 833.5h1M174 833.5h9M288 833.5h4M321 833.5h1M546 833.5h2M716 833.5h1M724 833.5h3M920 833.5h2M991 833.5h1M1150 833.5h1M55 834.5h1M70 834.5h1M102 834.5h1M148 834.5h1M173 834.5h1M292 834.5h6M320 834.5h1M531 834.5h1M548 834.5h1M573 834.5h2M589 834.5h2M717 834.5h1M720 834.5h4M727 834.5h2M876 834.5h2M919 834.5h1M1151 834.5h2M1165 834.5h3M54 835.5h1M71 835.5h1M81 835.5h1M103 835.5h2M134 835.5h1M147 835.5h1M172 835.5h1M257 835.5h1M298 835.5h5M422 835.5h1M549 835.5h1M570 835.5h3M575 835.5h2M587 835.5h2M718 835.5h2M729 835.5h1M812 835.5h3M874 835.5h2M1153 835.5h2M1162 835.5h3M1168 835.5h2M72 836.5h2M105 836.5h2M133 836.5h1M135 836.5h1M163 836.5h1M171 836.5h1M256 836.5h1M303 836.5h2M420 836.5h2M423 836.5h1M550 836.5h12M568 836.5h2M577 836.5h2M585 836.5h2M730 836.5h2M808 836.5h4M873 836.5h1M993 836.5h1M1155 836.5h2M1160 836.5h2M1170 836.5h3M22 837.5h1M74 837.5h1M107 837.5h2M136 837.5h2M170 837.5h1M255 837.5h1M305 837.5h2M316 837.5h3M419 837.5h1M424 837.5h2M529 837.5h1M562 837.5h6M579 837.5h2M583 837.5h2M732 837.5h2M789 837.5h2M806 837.5h2M871 837.5h2M994 837.5h1M1157 837.5h3M1173 837.5h1M1374 837.5h1M23 838.5h2M75 838.5h1M109 838.5h2M138 838.5h1M145 838.5h1M169 838.5h1M252 838.5h3M307 838.5h2M312 838.5h4M418 838.5h1M426 838.5h1M581 838.5h2M734 838.5h1M787 838.5h2M791 838.5h1M805 838.5h1M870 838.5h1M995 838.5h1M1147 838.5h1M1375 838.5h2M25 839.5h2M76 839.5h2M111 839.5h1M131 839.5h1M139 839.5h1M144 839.5h1M168 839.5h1M248 839.5h4M309 839.5h3M416 839.5h2M427 839.5h1M735 839.5h1M785 839.5h2M792 839.5h1M804 839.5h1M1231 839.5h8M1377 839.5h1M20 840.5h1M27 840.5h2M51 840.5h1M78 840.5h1M130 840.5h1M140 840.5h2M143 840.5h1M167 840.5h1M246 840.5h2M415 840.5h1M428 840.5h2M736 840.5h1M783 840.5h2M793 840.5h1M803 840.5h1M1119 840.5h2M1239 840.5h1M1372 840.5h1M1378 840.5h2M19 841.5h1M29 841.5h3M129 841.5h1M142 841.5h1M166 841.5h1M245 841.5h1M414 841.5h1M430 841.5h1M737 841.5h1M750 841.5h1M778 841.5h5M997 841.5h1M1121 841.5h2M1145 841.5h1M1240 841.5h1M1380 841.5h2M32 842.5h2M113 842.5h1M244 842.5h1M413 842.5h1M431 842.5h1M525 842.5h2M738 842.5h1M748 842.5h2M751 842.5h2M765 842.5h13M818 842.5h1M1123 842.5h2M1241 842.5h1M1382 842.5h2M34 843.5h3M49 843.5h1M114 843.5h1M242 843.5h2M432 843.5h2M445 843.5h1M523 843.5h2M739 843.5h1M746 843.5h2M753 843.5h1M763 843.5h2M795 843.5h1M801 843.5h1M1125 843.5h2M1370 843.5h1M1384 843.5h4M1421 843.5h5M17 844.5h1M37 844.5h2M115 844.5h1M127 844.5h1M231 844.5h2M241 844.5h1M434 844.5h1M443 844.5h2M521 844.5h2M740 844.5h1M745 844.5h1M754 844.5h2M761 844.5h2M796 844.5h1M800 844.5h1M1127 844.5h2M1388 844.5h4M1419 844.5h2M1426 844.5h5M16 845.5h1M39 845.5h2M125 845.5h2M233 845.5h2M240 845.5h1M411 845.5h1M435 845.5h1M441 845.5h2M519 845.5h2M741 845.5h1M743 845.5h2M756 845.5h2M759 845.5h2M797 845.5h1M799 845.5h1M866 845.5h1M1129 845.5h1M1243 845.5h1M1392 845.5h2M1417 845.5h2M41 846.5h2M122 846.5h3M235 846.5h2M239 846.5h1M410 846.5h1M436 846.5h2M439 846.5h2M517 846.5h2M742 846.5h1M758 846.5h1M798 846.5h1M1130 846.5h2M1140 846.5h3M1244 846.5h1M1368 846.5h1M1394 846.5h3M1402 846.5h8M1415 846.5h2M43 847.5h2M117 847.5h1M120 847.5h2M237 847.5h2M343 847.5h1M382 847.5h4M409 847.5h1M438 847.5h1M515 847.5h2M1132 847.5h2M1136 847.5h4M1245 847.5h1M1397 847.5h5M1410 847.5h5M5 848.5h10M45 848.5h2M118 848.5h2M344 848.5h2M381 848.5h1M386 848.5h5M513 848.5h2M893 848.5h3M1134 848.5h2M1246 848.5h1M3 849.5h2M346 849.5h1M391 849.5h2M511 849.5h2M822 849.5h2M891 849.5h2M896 849.5h4M1247 849.5h1M1342 849.5h9M1365 849.5h2M1 850.5h2M347 850.5h1M393 850.5h2M407 850.5h1M509 850.5h2M824 850.5h4M889 850.5h2M900 850.5h3M1248 850.5h2M1340 850.5h2M1351 850.5h2M1363 850.5h2M0 851.5h1M348 851.5h2M379 851.5h1M395 851.5h2M402 851.5h5M506 851.5h3M828 851.5h11M887 851.5h2M903 851.5h1M1250 851.5h1M1339 851.5h1M1353 851.5h2M1361 851.5h2M350 852.5h1M378 852.5h1M397 852.5h5M504 852.5h2M839 852.5h1M858 852.5h5M904 852.5h1M1251 852.5h1M1317 852.5h2M1338 852.5h1M1355 852.5h2M1359 852.5h2M377 853.5h1M478 853.5h1M502 853.5h2M840 853.5h2M853 853.5h5M905 853.5h1M1252 853.5h2M1315 853.5h2M1319 853.5h1M1336 853.5h2M1357 853.5h2M479 854.5h1M842 854.5h1M851 854.5h2M906 854.5h1M1313 854.5h2M1320 854.5h1M1335 854.5h1M352 855.5h1M480 855.5h2M843 855.5h1M849 855.5h2M907 855.5h1M1183 855.5h1M1311 855.5h2M1321 855.5h1M1334 855.5h1M375 856.5h1M482 856.5h1M844 856.5h2M847 856.5h2M908 856.5h1M1184 856.5h4M1322 856.5h1M1332 856.5h2M374 857.5h1M483 857.5h1M846 857.5h1M909 857.5h1M1188 857.5h3M1323 857.5h1M1330 857.5h2M354 858.5h1M372 858.5h2M484 858.5h2M499 858.5h1M1191 858.5h1M1324 858.5h1M1329 858.5h1M371 859.5h1M486 859.5h1M1192 859.5h1M1220 859.5h2M1325 859.5h1M1327 859.5h2M370 860.5h1M474 860.5h1M487 860.5h1M1007 860.5h1M1109 860.5h1M1193 860.5h1M1219 860.5h1M1326 860.5h1M356 861.5h1M368 861.5h2M488 861.5h1M497 861.5h1M1008 861.5h4M1106 861.5h3M1194 861.5h2M1205 861.5h3M1218 861.5h1M367 862.5h1M489 862.5h1M1012 862.5h6M1104 862.5h2M1196 862.5h1M1202 862.5h3M1208 862.5h2M1216 862.5h2M362 863.5h5M490 863.5h2M1018 863.5h8M1102 863.5h2M1197 863.5h1M1200 863.5h2M1210 863.5h3M1215 863.5h1M358 864.5h4M492 864.5h1M1026 864.5h5M1198 864.5h2M1213 864.5h2M455 865.5h9M493 865.5h1M1031 865.5h1M464 866.5h4M494 866.5h1M1032 866.5h1M1062 866.5h1M468 867.5h3M1033 867.5h1M1060 867.5h2M1034 868.5h2M1045 868.5h3M1058 868.5h2M1099 868.5h1M1036 869.5h1M1042 869.5h3M1048 869.5h2M1057 869.5h1M1037 870.5h1M1040 870.5h2M1050 870.5h3M1055 870.5h2M1038 871.5h2M1053 871.5h2M1097 871.5h1M1263 872.5h1M1264 873.5h2M1266 874.5h1M1267 875.5h1M1086 876.5h9M1268 876.5h2M1085 877.5h1M1270 877.5h2M1272 878.5h4M1276 879.5h3M1083 880.5h1M1070 881.5h1M1082 881.5h1M1071 882.5h2M1081 882.5h1M1280 882.5h1M1300 882.5h1M1073 883.5h1M1281 883.5h1M1299 883.5h1M1074 884.5h2M1076 885.5h2M1079 885.5h1M1078 886.5h1M1283 886.5h1M1297 886.5h1M1284 887.5h1M1296 887.5h1M1286 890.5h9" stroke="#1e90ff" stroke-width="1" fill="none"/>
</g>
<line x1="1314.5" y1="849.5" x2="1423.0" y2="844.0" stroke="#ff0000" stroke-width="3.1" shape-rendering="crispEdges"/>
<polygon points="1433.0,843.5 1423.3,848.8 1422.8,839.2" fill="#ff0000"/>
<g shape-rendering="crispEdges" fill="#000">
<rect x="0" y="23" width="1657" height="1"/>
<rect x="1656" y="23" width="1" height="554"/>
<rect x="0" y="576" width="1657" height="1"/>
<rect x="0" y="578" width="1657" height="1"/>
<rect x="1656" y="578" width="1" height="171"/>
<rect x="0" y="748" width="1657" height="1"/>
<rect x="0" y="750" width="1657" height="1"/>
<rect x="1656" y="750" width="1" height="174"/>
<rect x="0" y="923" width="1657" height="1"/>
<rect x="1657" y="45" width="2" height="1"/>
<rect x="1657" y="78" width="2" height="1"/>
<rect x="1657" y="111" width="2" height="1"/>
<rect x="1657" y="144" width="2" height="1"/>
<rect x="1657" y="177" width="2" height="1"/>
<rect x="1657" y="210" width="2" height="1"/>
<rect x="1657" y="243" width="2" height="1"/>
<rect x="1657" y="276" width="2" height="1"/>
<rect x="1657" y="309" width="2" height="1"/>
<rect x="1657" y="342" width="2" height="1"/>
<rect x="1657" y="375" width="2" height="1"/>
<rect x="1657" y="408" width="2" height="1"/>
<rect x="1657" y="441" width="2" height="1"/>
<rect x="1657" y="474" width="2" height="1"/>
<rect x="1657" y="507" width="2" height="1"/>
<rect x="1657" y="540" width="2" height="1"/>
<rect x="1657" y="573" width="2" height="1"/>
<rect x="1657" y="580" width="2" height="1"/>
<rect x="1657" y="627" width="2" height="1"/>
<rect x="1657" y="747" width="2" height="1"/>
<rect x="1657" y="752" width="2" height="1"/>
<rect x="1657" y="787" width="2" height="1"/>
<rect x="1657" y="837" width="2" height="1"/>
<rect x="1657" y="898" width="2" height="1"/>
<rect x="62" y="924" width="1" height="3"/>
<rect x="126" y="924" width="1" height="3"/>
<rect x="190" y="924" width="1" height="3"/>
<rect x="254" y="924" width="1" height="3"/>
<rect x="318" y="924" width="1" height="3"/>
<rect x="382" y="924" width="1" height="3"/>
<rect x="446" y="924" width="1" height="3"/>
<rect x="510" y="924" width="1" height="3"/>
<rect x="574" y="924" width="1" height="3"/>
<rect x="638" y="924" width="1" height="3"/>
<rect x="702" y="924" width="1" height="3"/>
<rect x="766" y="924" width="1" height="3"/>
<rect x="830" y="924" width="1" height="3"/>
<rect x="894" y="924" width="1" height="3"/>
<rect x="958" y="924" width="1" height="3"/>
<rect x="1022" y="924" width="1" height="3"/>
<rect x="1086" y="924" width="1" height="3"/>
<rect x="1150" y="924" width="1" height="3"/>
<rect x="1214" y="924" width="1" height="3"/>
<rect x="1278" y="924" width="1" height="3"/>
<rect x="1342" y="924" width="1" height="3"/>
<rect x="1406" y="924" width="1" height="3"/>
</g>
<text x="1662" y="48.6" font-size="9.1" fill="#000" textLength="33.4" lengthAdjust="spacingAndGlyphs">29440.0</text>
<text x="1662" y="81.6" font-size="9.1" fill="#000" textLength="33.4" lengthAdjust="spacingAndGlyphs">29143.0</text>
<text x="1662" y="114.6" font-size="9.1" fill="#000" textLength="33.4" lengthAdjust="spacingAndGlyphs">28846.0</text>
<text x="1662" y="147.6" font-size="9.1" fill="#000" textLength="33.4" lengthAdjust="spacingAndGlyphs">28540.0</text>
<text x="1662" y="180.6" font-size="9.1" fill="#000" textLength="33.4" lengthAdjust="spacingAndGlyphs">28243.0</text>
<text x="1662" y="213.6" font-size="9.1" fill="#000" textLength="33.4" lengthAdjust="spacingAndGlyphs">27946.0</text>
<text x="1662" y="246.6" font-size="9.1" fill="#000" textLength="33.4" lengthAdjust="spacingAndGlyphs">27640.0</text>
<text x="1662" y="279.6" font-size="9.1" fill="#000" textLength="33.4" lengthAdjust="spacingAndGlyphs">27343.0</text>
<text x="1662" y="312.6" font-size="9.1" fill="#000" textLength="33.4" lengthAdjust="spacingAndGlyphs">27046.0</text>
<text x="1662" y="345.6" font-size="9.1" fill="#000" textLength="33.4" lengthAdjust="spacingAndGlyphs">26749.0</text>
<text x="1662" y="378.6" font-size="9.1" fill="#000" textLength="0.0" lengthAdjust="spacingAndGlyphs"></text>
<text x="1662" y="411.6" font-size="9.1" fill="#000" textLength="33.4" lengthAdjust="spacingAndGlyphs">26146.0</text>
<text x="1662" y="444.6" font-size="9.1" fill="#000" textLength="33.4" lengthAdjust="spacingAndGlyphs">25840.0</text>
<text x="1662" y="477.6" font-size="9.1" fill="#000" textLength="33.4" lengthAdjust="spacingAndGlyphs">25543.0</text>
<text x="1662" y="510.6" font-size="9.1" fill="#000" textLength="33.4" lengthAdjust="spacingAndGlyphs">25246.0</text>
<text x="1662" y="543.6" font-size="9.1" fill="#000" textLength="33.4" lengthAdjust="spacingAndGlyphs">24949.0</text>
<text x="1662" y="576.6" font-size="9.1" fill="#000" textLength="33.4" lengthAdjust="spacingAndGlyphs">24652.0</text>
<rect x="1658" y="397" width="41" height="11" fill="#000" shape-rendering="crispEdges"/>
<text x="1662" y="406.1" font-size="9.1" fill="#fff" textLength="33.4" lengthAdjust="spacingAndGlyphs">26199.0</text>
<rect x="1658" y="350" width="41" height="11" fill="#ff0000" shape-rendering="crispEdges"/>
<text x="1662" y="359.1" font-size="9.1" fill="#fff" textLength="33.4" lengthAdjust="spacingAndGlyphs">26618.6</text>
<rect x="1658" y="372" width="41" height="11" fill="#ff0000" shape-rendering="crispEdges"/>
<text x="1662" y="381.1" font-size="9.1" fill="#fff" textLength="33.4" lengthAdjust="spacingAndGlyphs">26419.2</text>
<rect x="1658" y="391" width="41" height="11" fill="#32cd32" shape-rendering="crispEdges"/>
<text x="1662" y="400.1" font-size="9.1" fill="#fff" textLength="33.4" lengthAdjust="spacingAndGlyphs">26247.0</text>
<rect x="1658" y="421" width="41" height="11" fill="#0000ff" shape-rendering="crispEdges"/>
<text x="1662" y="430.1" font-size="9.1" fill="#fff" textLength="33.4" lengthAdjust="spacingAndGlyphs">25975.2</text>
<rect x="1658" y="440" width="41" height="11" fill="#0000ff" shape-rendering="crispEdges"/>
<text x="1662" y="449.1" font-size="9.1" fill="#fff" textLength="33.4" lengthAdjust="spacingAndGlyphs">25803.0</text>
<text x="1660" y="589.2" font-size="9.1" fill="#000" textLength="28.3" lengthAdjust="spacingAndGlyphs">275.75</text>
<text x="1660.5" y="630.6" font-size="9.1" fill="#000" textLength="18.0" lengthAdjust="spacingAndGlyphs">0.00</text>
<text x="1660" y="745" font-size="9.1" fill="#000" textLength="31.4" lengthAdjust="spacingAndGlyphs">-698.77</text>
<text x="1660.5" y="761" font-size="9.1" fill="#000" textLength="15.4" lengthAdjust="spacingAndGlyphs">100</text>
<text x="1660.5" y="789.6" font-size="9.1" fill="#000" textLength="10.3" lengthAdjust="spacingAndGlyphs">80</text>
<text x="1660.5" y="840.8" font-size="9.1" fill="#000" textLength="10.3" lengthAdjust="spacingAndGlyphs">50</text>
<text x="1660.5" y="901.6" font-size="9.1" fill="#000" textLength="10.3" lengthAdjust="spacingAndGlyphs">15</text>
<text x="1660.5" y="920.8" font-size="9.1" fill="#000" textLength="5.1" lengthAdjust="spacingAndGlyphs">0</text>
<text x="2.3" y="590.4" font-size="9.1" fill="#000" textLength="133.3" lengthAdjust="spacingAndGlyphs">MACD(12,26,9) -183.36 -273.95</text>
<text x="2.3" y="762.8" font-size="9.1" fill="#000" textLength="67.5" lengthAdjust="spacingAndGlyphs">RSI(14) 46.4015</text>
<text x="-2.5" y="937" font-size="9.1" fill="#000" textLength="50.5" lengthAdjust="spacingAndGlyphs">26 Mar 2021</text>
<text x="62.4" y="937" font-size="9.1" fill="#000" textLength="46.4" lengthAdjust="spacingAndGlyphs">1 Apr 05:00</text>
<text x="126.4" y="937" font-size="9.1" fill="#000" textLength="52.4" lengthAdjust="spacingAndGlyphs">12 Apr 05:00</text>
<text x="190.4" y="937" font-size="9.1" fill="#000" textLength="52.1" lengthAdjust="spacingAndGlyphs">16 Apr 05:00</text>
<text x="254.4" y="937" font-size="9.1" fill="#000" textLength="52.1" lengthAdjust="spacingAndGlyphs">22 Apr 05:00</text>
<text x="318.4" y="937" font-size="9.1" fill="#000" textLength="52.4" lengthAdjust="spacingAndGlyphs">28 Apr 05:00</text>
<text x="382.4" y="937" font-size="9.1" fill="#000" textLength="51.1" lengthAdjust="spacingAndGlyphs">4 May 05:00</text>
<text x="446.4" y="937" font-size="9.1" fill="#000" textLength="56.1" lengthAdjust="spacingAndGlyphs">10 May 05:00</text>
<text x="510.4" y="937" font-size="9.1" fill="#000" textLength="56.4" lengthAdjust="spacingAndGlyphs">14 May 05:00</text>
<text x="574.4" y="937" font-size="9.1" fill="#000" textLength="56.1" lengthAdjust="spacingAndGlyphs">21 May 05:00</text>
<text x="638.4" y="937" font-size="9.1" fill="#000" textLength="56.8" lengthAdjust="spacingAndGlyphs">27 May 05:00</text>
<text x="702.4" y="937" font-size="9.1" fill="#000" textLength="46.8" lengthAdjust="spacingAndGlyphs">2 Jun 05:00</text>
<text x="766.4" y="937" font-size="9.1" fill="#000" textLength="46.4" lengthAdjust="spacingAndGlyphs">8 Jun 05:00</text>
<text x="830.4" y="937" font-size="9.1" fill="#000" textLength="51.8" lengthAdjust="spacingAndGlyphs">15 Jun 05:00</text>
<text x="894.4" y="937" font-size="9.1" fill="#000" textLength="51.8" lengthAdjust="spacingAndGlyphs">21 Jun 05:00</text>
<text x="958.4" y="937" font-size="9.1" fill="#000" textLength="52.1" lengthAdjust="spacingAndGlyphs">25 Jun 05:00</text>
<text x="1022.4" y="937" font-size="9.1" fill="#000" textLength="43.4" lengthAdjust="spacingAndGlyphs">5 Jul 01:15</text>
<text x="1086.4" y="937" font-size="9.1" fill="#000" textLength="43.4" lengthAdjust="spacingAndGlyphs">9 Jul 01:15</text>
<text x="1150.4" y="937" font-size="9.1" fill="#000" textLength="48.0" lengthAdjust="spacingAndGlyphs">15 Jul 01:15</text>
<text x="1214.4" y="937" font-size="9.1" fill="#000" textLength="48.4" lengthAdjust="spacingAndGlyphs">21 Jul 01:15</text>
<text x="1278.4" y="937" font-size="9.1" fill="#000" textLength="48.0" lengthAdjust="spacingAndGlyphs">27 Jul 01:15</text>
<text x="1342.4" y="937" font-size="9.1" fill="#000" textLength="48.7" lengthAdjust="spacingAndGlyphs">2 Aug 01:15</text>
<text x="1406.4" y="937" font-size="9.1" fill="#000" textLength="48.7" lengthAdjust="spacingAndGlyphs">6 Aug 01:15</text>
<polygon points="1,34.2 8,34.2 4.5,29.9" fill="#000"/>
<text x="13.6" y="34.8" font-size="9.1" fill="#000" xml:space="preserve" textLength="187.4" lengthAdjust="spacingAndGlyphs">HK50-,H4&#160; 26348.0 26357.0 26155.0 26199.0</text>
<g>
<rect x="0" y="43" width="222" height="59" fill="#fff" />
<rect x="1" y="43" width="52" height="25" fill="url(#gr1)" />
<rect x="168" y="43" width="52" height="25" fill="url(#gr1)" />
<rect x="1" y="67" width="109" height="33" fill="url(#gr2)" />
<rect x="112" y="67" width="108" height="33" fill="url(#gr2)" />
<rect x="1.5" y="43.5" width="51" height="24" fill="none" stroke="#c81818" stroke-width="1"/>
<rect x="168.5" y="43.5" width="51" height="24" fill="none" stroke="#c81818" stroke-width="1"/>
<rect x="5" y="66" width="44" height="1" fill="#a81010" />
<rect x="5" y="67" width="44" height="1" fill="#e86060" />
<rect x="172" y="66" width="44" height="1" fill="#a81010" />
<rect x="172" y="67" width="44" height="1" fill="#e86060" />
<rect x="55.5" y="43.5" width="110" height="21" fill="#fff" stroke="#a8b0bc" stroke-width="1" rx="1.5"/>
<rect x="57" y="45" width="19" height="18" fill="url(#gb)" stroke="#c4c4c4" stroke-width="1"/>
<rect x="145" y="45" width="19" height="18" fill="url(#gb)" stroke="#c4c4c4" stroke-width="1"/>
<polygon points="63.5,52.5 68.5,52.5 66,55.5" fill="#4a5ec0"/>
<polygon points="152,55.5 157,55.5 154.5,52.5" fill="#4a5ec0"/>
<text x="140.5" y="58" font-size="13" fill="#222" text-anchor="end" textLength="23" lengthAdjust="spacingAndGlyphs">1.00</text>
<text x="13" y="58.7" font-size="12" fill="#fff" text-anchor="start" textLength="26" lengthAdjust="spacingAndGlyphs">SELL</text>
<text x="181.7" y="58.7" font-size="12" fill="#fff" text-anchor="start" textLength="23.4" lengthAdjust="spacingAndGlyphs">BUY</text>
<text x="17.3" y="94.5" font-size="12" fill="#fff" text-anchor="start" font-weight="bold" textLength="35" lengthAdjust="spacingAndGlyphs">26197</text>
<text x="127.6" y="94.5" font-size="12" fill="#fff" text-anchor="start" font-weight="bold" textLength="34.6" lengthAdjust="spacingAndGlyphs">26210</text>
<rect x="56.5" y="90.4" width="4.2" height="4" fill="#fff" rx="1.2"/>
<rect x="167.3" y="90.4" width="4.2" height="4" fill="#fff" rx="1.2"/>
<text x="64.2" y="94.5" font-size="34.2" fill="#fff" text-anchor="start" textLength="14" lengthAdjust="spacingAndGlyphs">5</text>
<text x="174.8" y="94.5" font-size="34.2" fill="#fff" text-anchor="start" textLength="14" lengthAdjust="spacingAndGlyphs">5</text>
</g>
<circle cx="33.6" cy="42.6" r="1.3" fill="#fff" stroke="#000" stroke-width="0.9"/>
<g id="tb">
<rect x="0" y="0" width="1703" height="18" fill="#f0f0f0" />
<rect x="0" y="18" width="1703" height="1" fill="#f4f4f4" />
<rect x="0" y="19" width="1703" height="1" fill="#a4a4a4" />
<rect x="0" y="20" width="1703" height="1" fill="#6a6a6a" />
<rect x="0" y="21" width="1703" height="2" fill="#fff" />
<circle cx="-0.5" cy="4" r="5.2" fill="#d6e6f6" stroke="#88a8cc" stroke-width="1.2"/>
<line x1="4" y1="10" x2="8.5" y2="15.5" stroke="#c9a23a" stroke-width="2.6" stroke-linecap="round"/>
<rect x="17" y="0" width="1" height="17" fill="#a8a8a8" />
<path d="M27.5 -2H36L40 2V11.5H27.5Z" fill="#fff" stroke="#8a8a8a" stroke-width="1"/>
<path d="M30 2H35M30 4.5H37M30 7H33" stroke="#9a9a9a" stroke-width="1"/>
<path d="M35.2 5.2H39.2V9H43V13H39.2V16.6H35.2V13H31.6V9H35.2Z" fill="#2fd02f" stroke="#0c8a0c" stroke-width="0.9"/>
<text x="45.4" y="10.2" font-size="12" fill="#111" style="font-family:'Liberation Sans','Noto Sans CJK SC',sans-serif">新订单</text>
<path d="M94.3 8.8L100 -2L110 7.6L110 9.4L102.3 15.2L101 14.6Z" fill="#b88420"/>
<path d="M94.3 8.3L100 -2L109.6 7.2L101.6 13.4Z" fill="#f0c438" stroke="#b8861c" stroke-width="0.9"/>
<path d="M99.5 2L105.5 7.8" stroke="#fae690" stroke-width="2.2" stroke-linecap="round" opacity="0.8"/>
<rect x="125.5" y="-1" width="9" height="9.5" fill="#3d8de4" stroke="#2a6ab8" stroke-width="1"/>
<rect x="127.5" y="1" width="5.5" height="2" fill="#dff"/><rect x="128.5" y="5" width="4.5" height="1.6" fill="#cfe4fa"/>
<path d="M124.5 13.8a3 3 0 0 1 0.6-5.6a3.6 3.6 0 0 1 6.4-0.9a3.2 3.2 0 0 1 4.6 2.4a2.2 2.2 0 0 1-0.4 4.2Z" fill="#e4eef8" stroke="#8fa8c8" stroke-width="1"/>
<path d="M158.6 6.5L158.6 14.4A7.8 7.8 0 0 0 165.8 7.5Z" fill="#58b858" opacity="0.55"/>
<circle cx="158" cy="6.5" r="7.6" fill="none" stroke="#8eaade" stroke-width="1"/>
<circle cx="158" cy="6.5" r="4.9" fill="none" stroke="#6f92d6" stroke-width="1.1"/>
<circle cx="158" cy="6.3" r="2" fill="#3a68c4"/>
<path d="M158.6 7V14.6" stroke="#22a022" stroke-width="1.3"/>
<path d="M178.5 3.5L192 3.5L186.5 10V14L183.5 12.5V10Z" fill="#f4c828" stroke="#c89a10" stroke-width="1"/>
<ellipse cx="185" cy="2.2" rx="8" ry="2.6" fill="#5c9cdc" stroke="#3a78b8" stroke-width="0.8"/>
<path d="M181.5 1.5Q185 -6 188.5 1.5Z" fill="#4a8cd0"/>
<circle cx="190" cy="10.5" r="3.9" fill="#e42828" stroke="#b01010" stroke-width="0.8"/>
<rect x="188.7" y="9.2" width="2.6" height="2.6" fill="#fff" />
<text x="198.6" y="10.1" font-size="11.6" fill="#111" style="font-family:'Liberation Sans','Noto Sans CJK SC',sans-serif">自动交易</text>
<rect x="252" y="0" width="1" height="18" fill="#a0a0a0" />
<rect x="253" y="0" width="1" height="18" fill="#fff" />
<rect x="257" y="1" width="3" height="1" fill="#b4b4b4" />
<rect x="257" y="3" width="3" height="1" fill="#b4b4b4" />
<rect x="257" y="5" width="3" height="1" fill="#b4b4b4" />
<rect x="257" y="7" width="3" height="1" fill="#b4b4b4" />
<rect x="257" y="9" width="3" height="1" fill="#b4b4b4" />
<rect x="257" y="11" width="3" height="1" fill="#b4b4b4" />
<rect x="257" y="13" width="3" height="1" fill="#b4b4b4" />
<rect x="257" y="15" width="3" height="1" fill="#b4b4b4" />
<path d="M271.3 0.5V14.5M268.8 12.3H282.7M269.5 2.7L271.3 0.5L273.1 2.7M280.5 10.5L282.7 12.3L280.5 14.100000000000001" stroke="#555" stroke-width="1.1" fill="none"/>
<path d="M277.3 2V10M275 9H277.3M277.3 3H279.6" stroke="#1c9c1c" stroke-width="1.3" fill="none"/>
<rect x="291" y="0" width="1" height="17" fill="#a8a8a8" />
<rect x="292" y="0" width="24" height="17" fill="#f8f8f8" />
<path d="M299 0.5V14.5M296.5 12.3H311M297.2 2.7L299 0.5L300.8 2.7M308.8 10.5L311 12.3L308.8 14.100000000000001" stroke="#555" stroke-width="1.1" fill="none"/>
<path d="M305.8 0V11" stroke="#1c7c1c" stroke-width="1"/><rect x="303.8" y="1" width="4" height="8" fill="#3cd03c" stroke="#1c8c1c" stroke-width="0.9"/>
<path d="M327.5 0.5V14.5M325 12.3H339M325.7 2.7L327.5 0.5L329.3 2.7M336.8 10.5L339 12.3L336.8 14.100000000000001" stroke="#555" stroke-width="1.1" fill="none"/>
<path d="M327.8 10.2Q330 4 332.5 4Q335 4.5 338 8.4" stroke="#2a9a2a" stroke-width="1.2" fill="none"/>
<rect x="348" y="0" width="1" height="17" fill="#a8a8a8" />
<line x1="366.5" y1="8.6" x2="372.09999999999997" y2="13.8" stroke="#c9a23a" stroke-width="2.6" stroke-linecap="round"/>
<circle cx="362.9" cy="4.8" r="5.3" fill="#dceaf8" stroke="#5a8ad0" stroke-width="1.3"/>
<path d="M360.09999999999997 4.8H365.7M362.9 2V7.6" stroke="#3a6cc8" stroke-width="1.5"/>
<line x1="394.90000000000003" y1="8.6" x2="400.5" y2="13.8" stroke="#c9a23a" stroke-width="2.6" stroke-linecap="round"/>
<circle cx="391.3" cy="4.8" r="5.3" fill="#dceaf8" stroke="#5a8ad0" stroke-width="1.3"/>
<path d="M388.5 4.8H394.1" stroke="#3a6cc8" stroke-width="1.5"/>
<rect x="413.5" y="-1" width="7.3" height="7.3" fill="#5cb432" rx="0.8"/>
<rect x="415.0" y="1.2000000000000002" width="4.3" height="2.6" fill="none" stroke="#fff" stroke-width="0.9"/>
<rect x="421.7" y="-1" width="7.3" height="7.3" fill="#3a6ad8" rx="0.8"/>
<rect x="423.2" y="1.2000000000000002" width="4.3" height="2.6" fill="none" stroke="#fff" stroke-width="0.9"/>
<rect x="413.5" y="7" width="7.3" height="7.3" fill="#3a6ad8" rx="0.8"/>
<rect x="415.0" y="9.2" width="4.3" height="2.6" fill="none" stroke="#fff" stroke-width="0.9"/>
<rect x="421.7" y="7" width="7.3" height="7.3" fill="#5cb432" rx="0.8"/>
<rect x="423.2" y="9.2" width="4.3" height="2.6" fill="none" stroke="#fff" stroke-width="0.9"/>
<rect x="438" y="0" width="1" height="17" fill="#a8a8a8" />
<rect x="443" y="0" width="25" height="17" fill="#f8f8f8" />
<path d="M451.8 0.5V14.5M449 12.3H463M450.0 2.7L451.8 0.5L453.6 2.7M460.8 10.5L463 12.3L460.8 14.100000000000001" stroke="#555" stroke-width="1.1" fill="none"/>
<path d="M456.3 3.4V10L460.2 6.7Z" fill="#b8f0b8" stroke="#1c9c1c" stroke-width="1.1"/>
<rect x="471" y="0" width="1" height="17" fill="#a8a8a8" />
<rect x="472" y="0" width="24" height="17" fill="#f8f8f8" />
<path d="M479.5 0.5V14.5M477 12.3H491M477.7 2.7L479.5 0.5L481.3 2.7M488.8 10.5L491 12.3L488.8 14.100000000000001" stroke="#555" stroke-width="1.1" fill="none"/>
<path d="M485.9 0.5V11" stroke="#2a6ac0" stroke-width="1.2"/><path d="M491 6.5H487.2M489.2 4.4L487 6.5L489.2 8.6" stroke="#e03010" stroke-width="1.2" fill="none"/>
<rect x="500" y="0" width="1" height="17" fill="#a8a8a8" />
<path d="M510.5 -2H517L521 2V12H510.5Z" fill="#fff" stroke="#8a8a8a" stroke-width="1"/>
<path d="M513 3H515M513 6H515" stroke="#9a9a9a" stroke-width="1"/>
<path d="M518.2 5.4H522.4V9.4H526.2V13.4H522.4V17H518.2V13.4H514.4V9.4H518.2Z" fill="#2fd02f" stroke="#0c8a0c" stroke-width="0.9"/>
<polygon points="532,6 537.6,6 534.8,9" fill="#000"/>
<circle cx="556" cy="7" r="8" fill="#2c7ad8" stroke="#1c5cb0" stroke-width="0.8"/>
<circle cx="556" cy="7" r="5.4" fill="#f4f8fc"/>
<path d="M556 3V7.2H559" stroke="#444" stroke-width="1" fill="none"/>
<polygon points="571,6 576.6,6 573.8,9" fill="#000"/>
<rect x="587.5" y="0.5" width="15.5" height="13" fill="#fff" stroke="#6a90c8" stroke-width="1"/>
<rect x="587" y="0" width="16.5" height="2.6" fill="#3a78d0" />
<path d="M589 6L592 5L595 6L598 4.5L601.5 4.5" stroke="#c03010" stroke-width="1.2" fill="none"/>
<path d="M589 11.5L592 10.5L594.5 11.5L597.5 9.5L601.5 11" stroke="#20a020" stroke-width="1.2" fill="none"/>
<path d="M588 8H603" stroke="#9ab4dc" stroke-width="0.8"/>
<polygon points="610,6 615.6,6 612.8,9" fill="#000"/>
<rect x="621" y="0" width="1" height="18" fill="#a0a0a0" />
<rect x="622" y="0" width="1" height="18" fill="#fff" />
<rect x="625" y="1" width="3" height="1" fill="#b4b4b4" />
<rect x="625" y="3" width="3" height="1" fill="#b4b4b4" />
<rect x="625" y="5" width="3" height="1" fill="#b4b4b4" />
<rect x="625" y="7" width="3" height="1" fill="#b4b4b4" />
<rect x="625" y="9" width="3" height="1" fill="#b4b4b4" />
<rect x="625" y="11" width="3" height="1" fill="#b4b4b4" />
<rect x="625" y="13" width="3" height="1" fill="#b4b4b4" />
<rect x="625" y="15" width="3" height="1" fill="#b4b4b4" />
<rect x="631" y="0" width="1" height="17" fill="#a8a8a8" />
<rect x="632" y="0" width="24" height="17" fill="#f8f8f8" />
<path d="M639 -0.5V11.2L641.8 8.6L644.2 13.8L646.2 12.8L643.9 7.9L647.6 7.9Z" fill="#444"/>
<path d="M663.8 7.3H670M673.2 7.3H679.4M671.6 0V5.6M671.6 9V14.6" stroke="#555" stroke-width="1.1"/><rect x="671.1" y="6.8" width="1" height="1" fill="#555"/>
<rect x="688" y="0" width="1" height="17" fill="#a8a8a8" />
<path d="M705.4 1V14" stroke="#555" stroke-width="1.1"/>
<path d="M727.8 7.3H740.2" stroke="#555" stroke-width="1.1"/>
<path d="M756 13.6L768 1.9" stroke="#555" stroke-width="1.1"/>
<path d="M781.8 9.5L793 0M785 13.5L797 3.5M784.5 7.2L787.5 11.4M787.5 4.7L790.5 8.9M790.5 2.2L793.5 6.4M793.2 0L796 4.2" stroke="#555" stroke-width="1" fill="none"/>
<text x="793" y="15.8" font-size="6.5" font-weight="bold" fill="#444">E</text>
<path d="M811 0.3H824.5" stroke="#555" stroke-width="1" stroke-dasharray="1,1"/>
<path d="M811 3.8H824.5" stroke="#555" stroke-width="1" stroke-dasharray="1,1"/>
<path d="M811 7.3H824.5" stroke="#555" stroke-width="1" stroke-dasharray="1,1"/>
<path d="M811 11.6H824.5" stroke="#555" stroke-width="1" stroke-dasharray="1,1"/>
<text x="821" y="15.8" font-size="6.5" font-weight="bold" fill="#444">F</text>
<text x="841.6" y="12" font-size="12" fill="#505050" stroke="#505050" stroke-width="0.3">A</text>
<rect x="868" y="0.8" width="12" height="12.7" fill="none" stroke="#555" stroke-width="1" stroke-dasharray="1,1"/>
<text x="874" y="11.6" font-size="11.5" fill="#505050" stroke="#505050" stroke-width="0.3" text-anchor="middle">T</text>
<path d="M899 0.3L902 3.3L899 5.5L896 3.3Z" fill="#555"/><path d="M905.5 8L908.7 11L905.5 14L902.3 11Z" fill="#555"/><path d="M897.5 7.5L900 10L904 5.5" stroke="#555" stroke-width="1.2" fill="none"/>
<polygon points="915.6,6 921.2,6 918.4,9" fill="#000"/>
<rect x="927" y="0" width="1" height="18" fill="#a0a0a0" />
<rect x="928" y="0" width="1" height="18" fill="#fff" />
<rect x="931" y="1" width="3" height="1" fill="#b4b4b4" />
<rect x="931" y="3" width="3" height="1" fill="#b4b4b4" />
<rect x="931" y="5" width="3" height="1" fill="#b4b4b4" />
<rect x="931" y="7" width="3" height="1" fill="#b4b4b4" />
<rect x="931" y="9" width="3" height="1" fill="#b4b4b4" />
<rect x="931" y="11" width="3" height="1" fill="#b4b4b4" />
<rect x="931" y="13" width="3" height="1" fill="#b4b4b4" />
<rect x="931" y="15" width="3" height="1" fill="#b4b4b4" />
<rect x="1077" y="0" width="1" height="17" fill="#a8a8a8" />
<rect x="1078" y="0" width="24" height="17" fill="#f8f8f8" />
<text x="942.8" y="10.8" font-size="9.2" fill="#4a4a4a">M1</text>
<text x="970.8" y="10.8" font-size="9.2" fill="#4a4a4a">M5</text>
<text x="996.6" y="10.8" font-size="9.2" fill="#4a4a4a">M15</text>
<text x="1024.7" y="10.8" font-size="9.2" fill="#4a4a4a">M30</text>
<text x="1055.7" y="10.8" font-size="9.2" fill="#4a4a4a">H1</text>
<text x="1082.8" y="10.8" font-size="9.2" fill="#4a4a4a">H4</text>
<text x="1111.8" y="10.8" font-size="9.2" fill="#4a4a4a">D1</text>
<text x="1139.6" y="10.8" font-size="9.2" fill="#4a4a4a">W1</text>
<text x="1165.8" y="10.8" font-size="9.2" fill="#4a4a4a">MN</text>
<rect x="1188" y="0" width="1" height="18" fill="#a0a0a0" />
<rect x="1189" y="0" width="1" height="18" fill="#fff" />
<line x1="1655.6" y1="7.6" x2="1651" y2="11.8" stroke="#2a5cd0" stroke-width="2.3" stroke-linecap="round"/>
<circle cx="1658.7" cy="4.4" r="3.8" fill="#f8f8fc" stroke="#2454c8" stroke-width="1.4"/>
<path d="M1676 9.5a5.5 4.6 0 1 1 4 4.4L1678.3 15.6L1678.6 13.2A5 4.4 0 0 1 1676 9.5Z" fill="#f6f6f6" stroke="#b4b4b4" stroke-width="1"/>
<circle cx="1689.3" cy="4.6" r="8" fill="#e2321e"/>
<text x="1689.2" y="8.4" font-size="11" font-weight="bold" fill="#fff" text-anchor="middle" font-family="Liberation Serif,serif">1</text>
</g>
<rect x="1702" y="22" width="1" height="917" fill="#d4d4d4" />
</svg>
</body></html>
